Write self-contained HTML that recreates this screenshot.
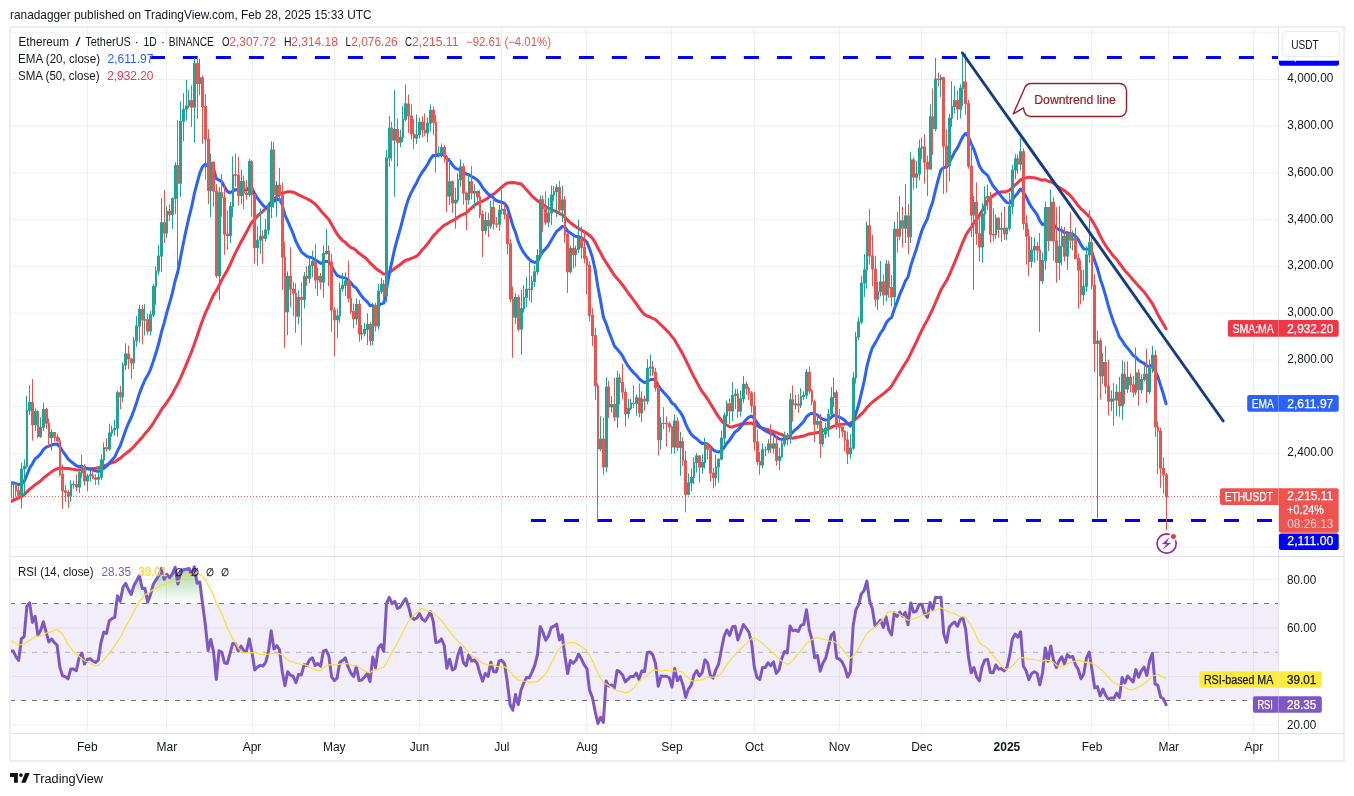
<!DOCTYPE html>
<html><head><meta charset="utf-8"><title>ETHUSDT chart</title>
<style>html,body{margin:0;padding:0;background:#fff;width:1354px;height:796px;overflow:hidden}</style></head>
<body>
<svg width="1354" height="796" viewBox="0 0 1354 796" style="position:absolute;left:0;top:0;will-change:transform;opacity:0.999" font-family="'Liberation Sans', Arial, sans-serif" font-size="12" fill="#131722">
<defs>
<linearGradient id="gUp" gradientUnits="userSpaceOnUse" x1="0" y1="550.4" x2="0" y2="603.8"><stop offset="0" stop-color="#4caf50" stop-opacity="0.75"/><stop offset="1" stop-color="#4caf50" stop-opacity="0.0"/></linearGradient>
<linearGradient id="gDn" gradientUnits="userSpaceOnUse" x1="0" y1="700.8" x2="0" y2="744.4"><stop offset="0" stop-color="#ff5252" stop-opacity="0.0"/><stop offset="1" stop-color="#ff5252" stop-opacity="0.6"/></linearGradient>
<clipPath id="cMain"><rect x="10" y="28" width="1268.5" height="528.5"/></clipPath>
<clipPath id="cRsi"><rect x="10" y="556.5" width="1268.5" height="177.0"/></clipPath>
<clipPath id="cUp"><rect x="0" y="0" width="1354" height="603.75"/></clipPath>
<clipPath id="cDn"><rect x="0" y="700.75" width="1354" height="200"/></clipPath>
</defs>
<rect width="1354" height="796" fill="#fff"/>
<g stroke="#eff1f1" stroke-width="1">
<line x1="87.5" y1="27" x2="87.5" y2="733.5"/>
<line x1="166.5" y1="27" x2="166.5" y2="733.5"/>
<line x1="252.5" y1="27" x2="252.5" y2="733.5"/>
<line x1="334.5" y1="27" x2="334.5" y2="733.5"/>
<line x1="419.5" y1="27" x2="419.5" y2="733.5"/>
<line x1="501.5" y1="27" x2="501.5" y2="733.5"/>
<line x1="586.5" y1="27" x2="586.5" y2="733.5"/>
<line x1="671.5" y1="27" x2="671.5" y2="733.5"/>
<line x1="754.5" y1="27" x2="754.5" y2="733.5"/>
<line x1="839.5" y1="27" x2="839.5" y2="733.5"/>
<line x1="921.5" y1="27" x2="921.5" y2="733.5"/>
<line x1="1006.5" y1="27" x2="1006.5" y2="733.5"/>
<line x1="1091.5" y1="27" x2="1091.5" y2="733.5"/>
<line x1="1168.5" y1="27" x2="1168.5" y2="733.5"/>
<line x1="1253.5" y1="27" x2="1253.5" y2="733.5"/>
<line x1="10" y1="546.9" x2="1278.5" y2="546.9"/>
<line x1="10" y1="500.16" x2="1278.5" y2="500.16"/>
<line x1="10" y1="453.42" x2="1278.5" y2="453.42"/>
<line x1="10" y1="406.68" x2="1278.5" y2="406.68"/>
<line x1="10" y1="359.94" x2="1278.5" y2="359.94"/>
<line x1="10" y1="313.2" x2="1278.5" y2="313.2"/>
<line x1="10" y1="266.46" x2="1278.5" y2="266.46"/>
<line x1="10" y1="219.72" x2="1278.5" y2="219.72"/>
<line x1="10" y1="172.98" x2="1278.5" y2="172.98"/>
<line x1="10" y1="126.24" x2="1278.5" y2="126.24"/>
<line x1="10" y1="79.5" x2="1278.5" y2="79.5"/>
<line x1="10" y1="32.76" x2="1278.5" y2="32.76"/>
<line x1="10" y1="725.0" x2="1278.5" y2="725.0"/>
<line x1="10" y1="676.5" x2="1278.5" y2="676.5"/>
<line x1="10" y1="628.0" x2="1278.5" y2="628.0"/>
<line x1="10" y1="579.5" x2="1278.5" y2="579.5"/>
</g>
<g clip-path="url(#cRsi)">
<rect x="10" y="603.8" width="1268.5" height="97.0" fill="#7e57c2" fill-opacity="0.1"/>
<path d="M10.43,651.11 L13.18,651.00 L15.92,656.63 L18.66,660.42 L21.41,638.74 L24.16,636.73 L26.90,606.15 L29.64,602.86 L32.39,622.39 L35.14,616.26 L37.88,635.18 L40.62,630.44 L43.37,621.77 L46.12,632.08 L48.86,642.02 L51.61,639.07 L54.35,642.48 L57.09,645.28 L59.84,667.17 L62.59,675.94 L65.33,676.80 L68.08,678.86 L70.82,669.00 L73.56,669.00 L76.31,670.75 L79.06,658.05 L81.80,652.97 L84.55,664.04 L87.29,659.45 L90.03,658.59 L92.78,661.03 L95.53,662.50 L98.27,660.16 L101.02,642.52 L103.76,632.08 L106.50,633.43 L109.25,620.80 L112.00,618.58 L114.74,617.34 L117.49,595.87 L120.23,601.33 L122.97,587.25 L125.72,583.36 L128.47,589.49 L131.21,594.53 L133.96,585.54 L136.70,580.54 L139.45,575.58 L142.19,588.51 L144.94,588.33 L147.68,602.12 L150.43,594.81 L153.17,584.56 L155.92,580.01 L158.66,575.96 L161.41,568.50 L164.15,579.41 L166.90,574.23 L169.64,577.59 L172.39,573.82 L175.13,567.25 L177.88,584.11 L180.62,571.64 L183.37,569.75 L186.11,569.23 L188.86,568.33 L191.60,574.44 L194.35,566.81 L197.09,583.24 L199.84,581.96 L202.58,604.01 L205.33,624.84 L208.07,650.59 L210.82,639.46 L213.56,651.85 L216.31,679.42 L219.05,650.76 L221.80,652.25 L224.54,662.99 L227.29,663.46 L230.03,653.43 L232.78,643.44 L235.52,643.70 L238.27,651.09 L241.01,646.14 L243.76,650.61 L246.50,651.16 L249.25,638.84 L251.99,652.23 L254.74,670.07 L257.48,667.04 L260.23,665.36 L262.97,666.11 L265.71,662.16 L268.46,651.62 L271.21,630.79 L273.95,649.04 L276.69,645.71 L279.44,649.66 L282.19,671.20 L284.93,685.61 L287.68,671.68 L290.42,675.14 L293.17,676.24 L295.91,682.60 L298.66,674.34 L301.40,674.98 L304.15,664.71 L306.89,665.47 L309.63,659.70 L312.38,657.75 L315.12,665.49 L317.87,663.56 L320.62,666.15 L323.36,651.23 L326.11,650.07 L328.85,655.82 L331.60,676.86 L334.34,680.54 L337.09,678.10 L339.83,662.32 L342.58,660.52 L345.32,657.84 L348.06,666.76 L350.81,673.00 L353.56,676.49 L356.30,666.66 L359.05,680.52 L361.79,680.02 L364.54,677.09 L367.28,673.37 L370.03,681.65 L372.77,657.07 L375.52,667.89 L378.26,648.17 L381.00,644.60 L383.75,651.41 L386.50,603.60 L389.24,597.43 L391.99,603.74 L394.73,601.34 L397.48,608.36 L400.22,607.08 L402.97,602.43 L405.71,598.62 L408.46,606.20 L411.20,617.01 L413.95,619.38 L416.69,618.21 L419.44,613.66 L422.18,618.97 L424.93,621.11 L427.67,616.96 L430.42,611.71 L433.16,621.18 L435.91,642.45 L438.65,642.07 L441.40,638.95 L444.14,645.26 L446.89,668.27 L449.63,659.18 L452.38,670.01 L455.12,668.17 L457.87,655.29 L460.61,647.69 L463.36,662.44 L466.10,665.81 L468.85,654.70 L471.59,661.05 L474.34,659.99 L477.08,663.17 L479.83,673.07 L482.57,681.27 L485.31,673.46 L488.06,676.37 L490.81,662.27 L493.55,671.69 L496.30,671.96 L499.04,661.03 L501.79,660.31 L504.53,663.75 L507.28,681.73 L510.02,704.53 L512.76,710.14 L515.51,694.54 L518.25,704.84 L521.00,690.21 L523.75,682.93 L526.49,677.56 L529.24,677.77 L531.98,672.16 L534.73,665.33 L537.47,654.60 L540.21,626.62 L542.96,632.27 L545.70,640.32 L548.45,635.91 L551.19,627.63 L553.94,626.16 L556.68,624.19 L559.43,640.02 L562.17,634.72 L564.92,655.79 L567.66,673.58 L570.41,660.42 L573.15,663.27 L575.90,660.30 L578.64,653.95 L581.39,658.97 L584.13,664.78 L586.88,668.52 L589.62,690.45 L592.37,697.34 L595.12,711.24 L597.86,723.53 L600.61,717.34 L603.35,722.36 L606.10,681.03 L608.84,686.10 L611.58,684.92 L614.33,688.33 L617.07,670.44 L619.82,671.86 L622.56,675.08 L625.31,681.92 L628.05,679.15 L630.80,676.40 L633.54,676.48 L636.29,673.15 L639.03,679.35 L641.78,670.91 L644.52,671.77 L647.27,652.45 L650.01,651.94 L652.76,654.88 L655.50,663.46 L658.25,686.30 L661.00,676.07 L663.74,676.17 L666.49,676.28 L669.23,677.74 L671.98,686.99 L674.72,668.52 L677.47,680.58 L680.21,676.60 L682.95,684.93 L685.70,697.25 L688.44,689.14 L691.19,685.33 L693.93,675.09 L696.68,670.50 L699.42,676.03 L702.17,672.62 L704.91,659.74 L707.66,662.89 L710.40,675.72 L713.15,678.08 L715.89,669.78 L718.64,663.99 L721.38,649.46 L724.13,636.25 L726.88,629.94 L729.62,635.36 L732.37,627.05 L735.11,626.30 L737.86,639.86 L740.60,632.55 L743.35,624.62 L746.09,628.17 L748.83,632.00 L751.58,642.74 L754.32,667.10 L757.07,677.60 L759.81,679.38 L762.56,667.52 L765.30,667.52 L768.05,662.82 L770.79,665.70 L773.54,661.83 L776.28,673.40 L779.03,669.91 L781.77,658.54 L784.52,651.46 L787.26,653.06 L790.01,626.07 L792.75,630.71 L795.50,630.10 L798.25,631.51 L800.99,625.36 L803.74,624.36 L806.48,609.73 L809.23,629.56 L811.97,639.61 L814.72,657.76 L817.46,655.49 L820.20,671.13 L822.95,663.00 L825.69,658.15 L828.44,647.13 L831.18,635.59 L833.93,632.37 L836.67,658.01 L839.42,659.12 L842.16,661.93 L844.91,668.00 L847.65,677.01 L850.40,671.74 L853.14,625.74 L855.89,609.68 L858.63,604.65 L861.38,593.65 L864.12,590.42 L866.87,581.06 L869.62,601.04 L872.36,609.02 L875.11,625.96 L877.85,623.42 L880.60,620.05 L883.34,627.56 L886.09,616.79 L888.83,629.95 L891.57,634.84 L894.32,612.71 L897.06,616.46 L899.81,611.98 L902.55,616.28 L905.30,612.41 L908.04,624.76 L910.79,603.03 L913.53,612.09 L916.28,611.22 L919.02,604.56 L921.77,604.26 L924.51,613.34 L927.26,617.37 L930.00,602.48 L932.75,609.45 L935.50,597.35 L938.24,597.63 L940.99,597.18 L943.73,633.90 L946.48,642.36 L949.22,627.19 L951.97,623.83 L954.71,622.12 L957.46,626.33 L960.20,619.76 L962.94,617.81 L965.69,629.56 L968.43,656.80 L971.18,672.86 L973.92,667.53 L976.67,677.03 L979.41,680.84 L982.16,666.59 L984.90,659.94 L987.65,659.56 L990.39,672.61 L993.14,672.76 L995.88,664.98 L998.63,669.15 L1001.38,668.56 L1004.12,670.84 L1006.87,667.64 L1009.61,655.62 L1012.36,638.88 L1015.10,634.13 L1017.85,637.17 L1020.59,631.73 L1023.34,666.06 L1026.08,670.78 L1028.83,679.64 L1031.57,673.63 L1034.32,671.75 L1037.06,673.27 L1039.81,684.83 L1042.55,673.02 L1045.30,647.92 L1048.04,661.33 L1050.79,645.97 L1053.53,660.41 L1056.28,667.57 L1059.02,660.93 L1061.77,656.82 L1064.51,664.18 L1067.26,654.69 L1070.00,657.29 L1072.75,656.45 L1075.49,664.86 L1078.24,669.54 L1080.98,678.77 L1083.73,674.08 L1086.47,657.93 L1089.22,652.11 L1091.96,669.71 L1094.71,687.98 L1097.45,686.68 L1100.20,696.06 L1102.94,689.03 L1105.69,695.38 L1108.43,699.25 L1111.18,697.88 L1113.92,698.21 L1116.67,693.03 L1119.41,697.36 L1122.16,677.58 L1124.90,682.99 L1127.65,676.00 L1130.39,679.00 L1133.14,682.02 L1135.88,669.62 L1138.62,677.12 L1141.37,670.58 L1144.12,667.15 L1146.86,675.60 L1149.61,660.80 L1152.35,653.25 L1155.10,683.91 L1157.84,685.33 L1160.59,696.91 L1163.33,698.79 L1166.08,704.74 L1166.08,603.75 L10.43,603.75 Z" fill="url(#gUp)" clip-path="url(#cUp)"/>
<path d="M10.43,651.11 L13.18,651.00 L15.92,656.63 L18.66,660.42 L21.41,638.74 L24.16,636.73 L26.90,606.15 L29.64,602.86 L32.39,622.39 L35.14,616.26 L37.88,635.18 L40.62,630.44 L43.37,621.77 L46.12,632.08 L48.86,642.02 L51.61,639.07 L54.35,642.48 L57.09,645.28 L59.84,667.17 L62.59,675.94 L65.33,676.80 L68.08,678.86 L70.82,669.00 L73.56,669.00 L76.31,670.75 L79.06,658.05 L81.80,652.97 L84.55,664.04 L87.29,659.45 L90.03,658.59 L92.78,661.03 L95.53,662.50 L98.27,660.16 L101.02,642.52 L103.76,632.08 L106.50,633.43 L109.25,620.80 L112.00,618.58 L114.74,617.34 L117.49,595.87 L120.23,601.33 L122.97,587.25 L125.72,583.36 L128.47,589.49 L131.21,594.53 L133.96,585.54 L136.70,580.54 L139.45,575.58 L142.19,588.51 L144.94,588.33 L147.68,602.12 L150.43,594.81 L153.17,584.56 L155.92,580.01 L158.66,575.96 L161.41,568.50 L164.15,579.41 L166.90,574.23 L169.64,577.59 L172.39,573.82 L175.13,567.25 L177.88,584.11 L180.62,571.64 L183.37,569.75 L186.11,569.23 L188.86,568.33 L191.60,574.44 L194.35,566.81 L197.09,583.24 L199.84,581.96 L202.58,604.01 L205.33,624.84 L208.07,650.59 L210.82,639.46 L213.56,651.85 L216.31,679.42 L219.05,650.76 L221.80,652.25 L224.54,662.99 L227.29,663.46 L230.03,653.43 L232.78,643.44 L235.52,643.70 L238.27,651.09 L241.01,646.14 L243.76,650.61 L246.50,651.16 L249.25,638.84 L251.99,652.23 L254.74,670.07 L257.48,667.04 L260.23,665.36 L262.97,666.11 L265.71,662.16 L268.46,651.62 L271.21,630.79 L273.95,649.04 L276.69,645.71 L279.44,649.66 L282.19,671.20 L284.93,685.61 L287.68,671.68 L290.42,675.14 L293.17,676.24 L295.91,682.60 L298.66,674.34 L301.40,674.98 L304.15,664.71 L306.89,665.47 L309.63,659.70 L312.38,657.75 L315.12,665.49 L317.87,663.56 L320.62,666.15 L323.36,651.23 L326.11,650.07 L328.85,655.82 L331.60,676.86 L334.34,680.54 L337.09,678.10 L339.83,662.32 L342.58,660.52 L345.32,657.84 L348.06,666.76 L350.81,673.00 L353.56,676.49 L356.30,666.66 L359.05,680.52 L361.79,680.02 L364.54,677.09 L367.28,673.37 L370.03,681.65 L372.77,657.07 L375.52,667.89 L378.26,648.17 L381.00,644.60 L383.75,651.41 L386.50,603.60 L389.24,597.43 L391.99,603.74 L394.73,601.34 L397.48,608.36 L400.22,607.08 L402.97,602.43 L405.71,598.62 L408.46,606.20 L411.20,617.01 L413.95,619.38 L416.69,618.21 L419.44,613.66 L422.18,618.97 L424.93,621.11 L427.67,616.96 L430.42,611.71 L433.16,621.18 L435.91,642.45 L438.65,642.07 L441.40,638.95 L444.14,645.26 L446.89,668.27 L449.63,659.18 L452.38,670.01 L455.12,668.17 L457.87,655.29 L460.61,647.69 L463.36,662.44 L466.10,665.81 L468.85,654.70 L471.59,661.05 L474.34,659.99 L477.08,663.17 L479.83,673.07 L482.57,681.27 L485.31,673.46 L488.06,676.37 L490.81,662.27 L493.55,671.69 L496.30,671.96 L499.04,661.03 L501.79,660.31 L504.53,663.75 L507.28,681.73 L510.02,704.53 L512.76,710.14 L515.51,694.54 L518.25,704.84 L521.00,690.21 L523.75,682.93 L526.49,677.56 L529.24,677.77 L531.98,672.16 L534.73,665.33 L537.47,654.60 L540.21,626.62 L542.96,632.27 L545.70,640.32 L548.45,635.91 L551.19,627.63 L553.94,626.16 L556.68,624.19 L559.43,640.02 L562.17,634.72 L564.92,655.79 L567.66,673.58 L570.41,660.42 L573.15,663.27 L575.90,660.30 L578.64,653.95 L581.39,658.97 L584.13,664.78 L586.88,668.52 L589.62,690.45 L592.37,697.34 L595.12,711.24 L597.86,723.53 L600.61,717.34 L603.35,722.36 L606.10,681.03 L608.84,686.10 L611.58,684.92 L614.33,688.33 L617.07,670.44 L619.82,671.86 L622.56,675.08 L625.31,681.92 L628.05,679.15 L630.80,676.40 L633.54,676.48 L636.29,673.15 L639.03,679.35 L641.78,670.91 L644.52,671.77 L647.27,652.45 L650.01,651.94 L652.76,654.88 L655.50,663.46 L658.25,686.30 L661.00,676.07 L663.74,676.17 L666.49,676.28 L669.23,677.74 L671.98,686.99 L674.72,668.52 L677.47,680.58 L680.21,676.60 L682.95,684.93 L685.70,697.25 L688.44,689.14 L691.19,685.33 L693.93,675.09 L696.68,670.50 L699.42,676.03 L702.17,672.62 L704.91,659.74 L707.66,662.89 L710.40,675.72 L713.15,678.08 L715.89,669.78 L718.64,663.99 L721.38,649.46 L724.13,636.25 L726.88,629.94 L729.62,635.36 L732.37,627.05 L735.11,626.30 L737.86,639.86 L740.60,632.55 L743.35,624.62 L746.09,628.17 L748.83,632.00 L751.58,642.74 L754.32,667.10 L757.07,677.60 L759.81,679.38 L762.56,667.52 L765.30,667.52 L768.05,662.82 L770.79,665.70 L773.54,661.83 L776.28,673.40 L779.03,669.91 L781.77,658.54 L784.52,651.46 L787.26,653.06 L790.01,626.07 L792.75,630.71 L795.50,630.10 L798.25,631.51 L800.99,625.36 L803.74,624.36 L806.48,609.73 L809.23,629.56 L811.97,639.61 L814.72,657.76 L817.46,655.49 L820.20,671.13 L822.95,663.00 L825.69,658.15 L828.44,647.13 L831.18,635.59 L833.93,632.37 L836.67,658.01 L839.42,659.12 L842.16,661.93 L844.91,668.00 L847.65,677.01 L850.40,671.74 L853.14,625.74 L855.89,609.68 L858.63,604.65 L861.38,593.65 L864.12,590.42 L866.87,581.06 L869.62,601.04 L872.36,609.02 L875.11,625.96 L877.85,623.42 L880.60,620.05 L883.34,627.56 L886.09,616.79 L888.83,629.95 L891.57,634.84 L894.32,612.71 L897.06,616.46 L899.81,611.98 L902.55,616.28 L905.30,612.41 L908.04,624.76 L910.79,603.03 L913.53,612.09 L916.28,611.22 L919.02,604.56 L921.77,604.26 L924.51,613.34 L927.26,617.37 L930.00,602.48 L932.75,609.45 L935.50,597.35 L938.24,597.63 L940.99,597.18 L943.73,633.90 L946.48,642.36 L949.22,627.19 L951.97,623.83 L954.71,622.12 L957.46,626.33 L960.20,619.76 L962.94,617.81 L965.69,629.56 L968.43,656.80 L971.18,672.86 L973.92,667.53 L976.67,677.03 L979.41,680.84 L982.16,666.59 L984.90,659.94 L987.65,659.56 L990.39,672.61 L993.14,672.76 L995.88,664.98 L998.63,669.15 L1001.38,668.56 L1004.12,670.84 L1006.87,667.64 L1009.61,655.62 L1012.36,638.88 L1015.10,634.13 L1017.85,637.17 L1020.59,631.73 L1023.34,666.06 L1026.08,670.78 L1028.83,679.64 L1031.57,673.63 L1034.32,671.75 L1037.06,673.27 L1039.81,684.83 L1042.55,673.02 L1045.30,647.92 L1048.04,661.33 L1050.79,645.97 L1053.53,660.41 L1056.28,667.57 L1059.02,660.93 L1061.77,656.82 L1064.51,664.18 L1067.26,654.69 L1070.00,657.29 L1072.75,656.45 L1075.49,664.86 L1078.24,669.54 L1080.98,678.77 L1083.73,674.08 L1086.47,657.93 L1089.22,652.11 L1091.96,669.71 L1094.71,687.98 L1097.45,686.68 L1100.20,696.06 L1102.94,689.03 L1105.69,695.38 L1108.43,699.25 L1111.18,697.88 L1113.92,698.21 L1116.67,693.03 L1119.41,697.36 L1122.16,677.58 L1124.90,682.99 L1127.65,676.00 L1130.39,679.00 L1133.14,682.02 L1135.88,669.62 L1138.62,677.12 L1141.37,670.58 L1144.12,667.15 L1146.86,675.60 L1149.61,660.80 L1152.35,653.25 L1155.10,683.91 L1157.84,685.33 L1160.59,696.91 L1163.33,698.79 L1166.08,704.74 L1166.08,700.75 L10.43,700.75 Z" fill="url(#gDn)" clip-path="url(#cDn)"/>
<line x1="10" y1="603.5" x2="1278.5" y2="603.5" stroke="#6f727c" stroke-opacity="1" stroke-width="1" stroke-dasharray="5 6"/>
<line x1="10" y1="652.3" x2="1278.5" y2="652.3" stroke="#787b86" stroke-opacity="0.55" stroke-width="1" stroke-dasharray="5 6"/>
<line x1="10" y1="700.5" x2="1278.5" y2="700.5" stroke="#6f727c" stroke-opacity="1" stroke-width="1" stroke-dasharray="5 6"/>
<path d="M10.43,651.11 L13.18,651.00 L15.92,656.63 L18.66,660.42 L21.41,638.74 L24.16,636.73 L26.90,606.15 L29.64,602.86 L32.39,622.39 L35.14,616.26 L37.88,635.18 L40.62,630.44 L43.37,621.77 L46.12,632.08 L48.86,642.02 L51.61,639.07 L54.35,642.48 L57.09,645.28 L59.84,667.17 L62.59,675.94 L65.33,676.80 L68.08,678.86 L70.82,669.00 L73.56,669.00 L76.31,670.75 L79.06,658.05 L81.80,652.97 L84.55,664.04 L87.29,659.45 L90.03,658.59 L92.78,661.03 L95.53,662.50 L98.27,660.16 L101.02,642.52 L103.76,632.08 L106.50,633.43 L109.25,620.80 L112.00,618.58 L114.74,617.34 L117.49,595.87 L120.23,601.33 L122.97,587.25 L125.72,583.36 L128.47,589.49 L131.21,594.53 L133.96,585.54 L136.70,580.54 L139.45,575.58 L142.19,588.51 L144.94,588.33 L147.68,602.12 L150.43,594.81 L153.17,584.56 L155.92,580.01 L158.66,575.96 L161.41,568.50 L164.15,579.41 L166.90,574.23 L169.64,577.59 L172.39,573.82 L175.13,567.25 L177.88,584.11 L180.62,571.64 L183.37,569.75 L186.11,569.23 L188.86,568.33 L191.60,574.44 L194.35,566.81 L197.09,583.24 L199.84,581.96 L202.58,604.01 L205.33,624.84 L208.07,650.59 L210.82,639.46 L213.56,651.85 L216.31,679.42 L219.05,650.76 L221.80,652.25 L224.54,662.99 L227.29,663.46 L230.03,653.43 L232.78,643.44 L235.52,643.70 L238.27,651.09 L241.01,646.14 L243.76,650.61 L246.50,651.16 L249.25,638.84 L251.99,652.23 L254.74,670.07 L257.48,667.04 L260.23,665.36 L262.97,666.11 L265.71,662.16 L268.46,651.62 L271.21,630.79 L273.95,649.04 L276.69,645.71 L279.44,649.66 L282.19,671.20 L284.93,685.61 L287.68,671.68 L290.42,675.14 L293.17,676.24 L295.91,682.60 L298.66,674.34 L301.40,674.98 L304.15,664.71 L306.89,665.47 L309.63,659.70 L312.38,657.75 L315.12,665.49 L317.87,663.56 L320.62,666.15 L323.36,651.23 L326.11,650.07 L328.85,655.82 L331.60,676.86 L334.34,680.54 L337.09,678.10 L339.83,662.32 L342.58,660.52 L345.32,657.84 L348.06,666.76 L350.81,673.00 L353.56,676.49 L356.30,666.66 L359.05,680.52 L361.79,680.02 L364.54,677.09 L367.28,673.37 L370.03,681.65 L372.77,657.07 L375.52,667.89 L378.26,648.17 L381.00,644.60 L383.75,651.41 L386.50,603.60 L389.24,597.43 L391.99,603.74 L394.73,601.34 L397.48,608.36 L400.22,607.08 L402.97,602.43 L405.71,598.62 L408.46,606.20 L411.20,617.01 L413.95,619.38 L416.69,618.21 L419.44,613.66 L422.18,618.97 L424.93,621.11 L427.67,616.96 L430.42,611.71 L433.16,621.18 L435.91,642.45 L438.65,642.07 L441.40,638.95 L444.14,645.26 L446.89,668.27 L449.63,659.18 L452.38,670.01 L455.12,668.17 L457.87,655.29 L460.61,647.69 L463.36,662.44 L466.10,665.81 L468.85,654.70 L471.59,661.05 L474.34,659.99 L477.08,663.17 L479.83,673.07 L482.57,681.27 L485.31,673.46 L488.06,676.37 L490.81,662.27 L493.55,671.69 L496.30,671.96 L499.04,661.03 L501.79,660.31 L504.53,663.75 L507.28,681.73 L510.02,704.53 L512.76,710.14 L515.51,694.54 L518.25,704.84 L521.00,690.21 L523.75,682.93 L526.49,677.56 L529.24,677.77 L531.98,672.16 L534.73,665.33 L537.47,654.60 L540.21,626.62 L542.96,632.27 L545.70,640.32 L548.45,635.91 L551.19,627.63 L553.94,626.16 L556.68,624.19 L559.43,640.02 L562.17,634.72 L564.92,655.79 L567.66,673.58 L570.41,660.42 L573.15,663.27 L575.90,660.30 L578.64,653.95 L581.39,658.97 L584.13,664.78 L586.88,668.52 L589.62,690.45 L592.37,697.34 L595.12,711.24 L597.86,723.53 L600.61,717.34 L603.35,722.36 L606.10,681.03 L608.84,686.10 L611.58,684.92 L614.33,688.33 L617.07,670.44 L619.82,671.86 L622.56,675.08 L625.31,681.92 L628.05,679.15 L630.80,676.40 L633.54,676.48 L636.29,673.15 L639.03,679.35 L641.78,670.91 L644.52,671.77 L647.27,652.45 L650.01,651.94 L652.76,654.88 L655.50,663.46 L658.25,686.30 L661.00,676.07 L663.74,676.17 L666.49,676.28 L669.23,677.74 L671.98,686.99 L674.72,668.52 L677.47,680.58 L680.21,676.60 L682.95,684.93 L685.70,697.25 L688.44,689.14 L691.19,685.33 L693.93,675.09 L696.68,670.50 L699.42,676.03 L702.17,672.62 L704.91,659.74 L707.66,662.89 L710.40,675.72 L713.15,678.08 L715.89,669.78 L718.64,663.99 L721.38,649.46 L724.13,636.25 L726.88,629.94 L729.62,635.36 L732.37,627.05 L735.11,626.30 L737.86,639.86 L740.60,632.55 L743.35,624.62 L746.09,628.17 L748.83,632.00 L751.58,642.74 L754.32,667.10 L757.07,677.60 L759.81,679.38 L762.56,667.52 L765.30,667.52 L768.05,662.82 L770.79,665.70 L773.54,661.83 L776.28,673.40 L779.03,669.91 L781.77,658.54 L784.52,651.46 L787.26,653.06 L790.01,626.07 L792.75,630.71 L795.50,630.10 L798.25,631.51 L800.99,625.36 L803.74,624.36 L806.48,609.73 L809.23,629.56 L811.97,639.61 L814.72,657.76 L817.46,655.49 L820.20,671.13 L822.95,663.00 L825.69,658.15 L828.44,647.13 L831.18,635.59 L833.93,632.37 L836.67,658.01 L839.42,659.12 L842.16,661.93 L844.91,668.00 L847.65,677.01 L850.40,671.74 L853.14,625.74 L855.89,609.68 L858.63,604.65 L861.38,593.65 L864.12,590.42 L866.87,581.06 L869.62,601.04 L872.36,609.02 L875.11,625.96 L877.85,623.42 L880.60,620.05 L883.34,627.56 L886.09,616.79 L888.83,629.95 L891.57,634.84 L894.32,612.71 L897.06,616.46 L899.81,611.98 L902.55,616.28 L905.30,612.41 L908.04,624.76 L910.79,603.03 L913.53,612.09 L916.28,611.22 L919.02,604.56 L921.77,604.26 L924.51,613.34 L927.26,617.37 L930.00,602.48 L932.75,609.45 L935.50,597.35 L938.24,597.63 L940.99,597.18 L943.73,633.90 L946.48,642.36 L949.22,627.19 L951.97,623.83 L954.71,622.12 L957.46,626.33 L960.20,619.76 L962.94,617.81 L965.69,629.56 L968.43,656.80 L971.18,672.86 L973.92,667.53 L976.67,677.03 L979.41,680.84 L982.16,666.59 L984.90,659.94 L987.65,659.56 L990.39,672.61 L993.14,672.76 L995.88,664.98 L998.63,669.15 L1001.38,668.56 L1004.12,670.84 L1006.87,667.64 L1009.61,655.62 L1012.36,638.88 L1015.10,634.13 L1017.85,637.17 L1020.59,631.73 L1023.34,666.06 L1026.08,670.78 L1028.83,679.64 L1031.57,673.63 L1034.32,671.75 L1037.06,673.27 L1039.81,684.83 L1042.55,673.02 L1045.30,647.92 L1048.04,661.33 L1050.79,645.97 L1053.53,660.41 L1056.28,667.57 L1059.02,660.93 L1061.77,656.82 L1064.51,664.18 L1067.26,654.69 L1070.00,657.29 L1072.75,656.45 L1075.49,664.86 L1078.24,669.54 L1080.98,678.77 L1083.73,674.08 L1086.47,657.93 L1089.22,652.11 L1091.96,669.71 L1094.71,687.98 L1097.45,686.68 L1100.20,696.06 L1102.94,689.03 L1105.69,695.38 L1108.43,699.25 L1111.18,697.88 L1113.92,698.21 L1116.67,693.03 L1119.41,697.36 L1122.16,677.58 L1124.90,682.99 L1127.65,676.00 L1130.39,679.00 L1133.14,682.02 L1135.88,669.62 L1138.62,677.12 L1141.37,670.58 L1144.12,667.15 L1146.86,675.60 L1149.61,660.80 L1152.35,653.25 L1155.10,683.91 L1157.84,685.33 L1160.59,696.91 L1163.33,698.79 L1166.08,704.74" fill="none" stroke="#7e57c2" stroke-width="3" stroke-linejoin="round" stroke-linecap="round"/>
<path d="M10.43,640.09 L13.18,641.72 L15.92,643.47 L18.66,644.74 L21.41,644.57 L24.16,643.57 L26.90,642.25 L29.64,640.15 L32.39,638.75 L35.14,636.80 L37.88,636.03 L40.62,635.88 L43.37,635.15 L46.12,632.98 L48.86,632.33 L51.61,631.48 L54.35,630.47 L57.09,629.39 L59.84,631.42 L62.59,634.22 L65.33,639.27 L68.08,644.69 L70.82,648.02 L73.56,651.79 L76.31,654.33 L79.06,656.30 L81.80,658.53 L84.55,660.81 L87.29,662.06 L90.03,663.45 L92.78,664.78 L95.53,666.01 L98.27,665.51 L101.02,663.12 L103.76,659.93 L106.50,656.68 L109.25,653.24 L112.00,649.64 L114.74,645.82 L117.49,641.38 L120.23,637.69 L122.97,632.21 L125.72,626.77 L128.47,621.84 L131.21,617.09 L133.96,611.59 L136.70,605.90 L139.45,601.12 L142.19,598.01 L144.94,594.79 L147.68,593.45 L150.43,591.76 L153.17,589.42 L155.92,588.28 L158.66,586.47 L161.41,585.13 L164.15,584.85 L166.90,583.76 L169.64,582.55 L172.39,581.71 L175.13,580.76 L177.88,581.37 L180.62,580.17 L183.37,578.84 L186.11,576.49 L188.86,574.60 L191.60,573.88 L194.35,572.93 L197.09,573.45 L199.84,574.42 L202.58,576.17 L205.33,579.79 L208.07,585.00 L210.82,589.69 L213.56,595.73 L216.31,602.54 L219.05,608.19 L221.80,614.09 L224.54,620.78 L227.29,627.58 L230.03,633.22 L232.78,638.69 L235.52,643.01 L238.27,647.95 L241.01,650.96 L243.76,652.80 L246.50,652.84 L249.25,652.80 L251.99,652.82 L254.74,652.15 L257.48,653.32 L260.23,654.25 L262.97,654.48 L265.71,654.38 L268.46,654.25 L271.21,653.35 L273.95,653.73 L276.69,653.35 L279.44,653.60 L282.19,655.07 L284.93,657.53 L287.68,659.88 L290.42,661.51 L293.17,661.95 L295.91,663.07 L298.66,663.71 L301.40,664.34 L304.15,664.52 L306.89,665.51 L309.63,667.58 L312.38,668.20 L315.12,669.61 L317.87,670.60 L320.62,670.24 L323.36,667.79 L326.11,666.25 L328.85,664.87 L331.60,664.91 L334.34,664.76 L337.09,665.03 L339.83,664.13 L342.58,663.83 L345.32,663.28 L348.06,663.79 L350.81,664.88 L353.56,665.66 L356.30,665.88 L359.05,666.91 L361.79,668.97 L364.54,670.90 L367.28,672.15 L370.03,672.49 L372.77,670.82 L375.52,670.09 L378.26,669.07 L381.00,667.94 L383.75,667.48 L386.50,662.97 L389.24,657.57 L391.99,652.37 L394.73,647.71 L397.48,642.55 L400.22,637.34 L402.97,632.01 L405.71,626.67 L408.46,621.28 L411.20,618.42 L413.95,614.95 L416.69,612.81 L419.44,610.60 L422.18,608.29 L424.93,609.54 L427.67,610.93 L430.42,611.50 L433.16,612.92 L435.91,615.35 L438.65,617.85 L441.40,620.46 L444.14,623.79 L446.89,628.23 L449.63,631.24 L452.38,634.86 L455.12,638.43 L457.87,641.40 L460.61,643.45 L463.36,646.40 L466.10,649.89 L468.85,652.96 L471.59,655.81 L474.34,657.06 L477.08,658.57 L479.83,661.01 L482.57,663.58 L485.31,663.95 L488.06,665.18 L490.81,664.63 L493.55,664.88 L496.30,666.07 L499.04,667.02 L501.79,666.87 L504.53,666.72 L507.28,668.65 L510.02,671.76 L512.76,675.34 L515.51,677.58 L518.25,679.85 L521.00,680.49 L523.75,681.17 L526.49,681.25 L529.24,682.36 L531.98,682.39 L534.73,681.92 L537.47,681.46 L540.21,679.05 L542.96,676.80 L545.70,673.85 L548.45,668.94 L551.19,663.05 L553.94,658.17 L556.68,652.40 L559.43,648.82 L562.17,645.38 L564.92,643.82 L567.66,643.52 L570.41,642.68 L573.15,642.54 L575.90,642.94 L578.64,644.89 L581.39,646.80 L584.13,648.55 L586.88,650.88 L589.62,655.37 L592.37,660.45 L595.12,666.67 L597.86,672.63 L600.61,678.53 L603.35,683.29 L606.10,683.82 L608.84,685.65 L611.58,687.20 L614.33,689.20 L617.07,690.38 L619.82,691.30 L622.56,692.04 L625.31,692.99 L628.05,692.19 L630.80,690.69 L633.54,688.21 L636.29,684.61 L639.03,681.90 L641.78,678.22 L644.52,677.56 L647.27,675.16 L650.01,672.80 L652.76,670.41 L655.50,669.91 L658.25,670.94 L661.00,671.02 L663.74,670.61 L666.49,670.40 L669.23,670.50 L671.98,671.25 L674.72,670.92 L677.47,671.00 L680.21,671.41 L682.95,672.35 L685.70,675.55 L688.44,678.21 L691.19,680.38 L693.93,681.21 L696.68,680.09 L699.42,680.08 L702.17,679.83 L704.91,678.65 L707.66,677.59 L710.40,676.78 L713.15,677.46 L715.89,676.69 L718.64,675.79 L721.38,673.26 L724.13,668.90 L726.88,664.67 L729.62,661.10 L732.37,657.67 L735.11,654.52 L737.86,651.93 L740.60,649.07 L743.35,646.56 L746.09,644.08 L748.83,640.96 L751.58,638.43 L754.32,638.24 L757.07,639.21 L759.81,641.35 L762.56,643.59 L765.30,646.27 L768.05,648.23 L770.79,650.99 L773.54,653.53 L776.28,655.93 L779.03,658.59 L781.77,661.02 L784.52,662.68 L787.26,664.18 L790.01,662.99 L792.75,660.39 L795.50,657.00 L798.25,653.58 L800.99,650.57 L803.74,647.49 L806.48,643.70 L809.23,641.11 L811.97,639.53 L814.72,638.41 L817.46,637.38 L820.20,638.28 L822.95,639.10 L825.69,639.47 L828.44,640.97 L831.18,641.32 L833.93,641.48 L836.67,643.37 L839.42,645.79 L842.16,648.47 L844.91,652.63 L847.65,656.02 L850.40,658.32 L853.14,656.03 L855.89,652.76 L858.63,648.01 L861.38,643.06 L864.12,638.22 L866.87,633.50 L869.62,631.03 L872.36,629.36 L875.11,627.07 L877.85,624.52 L880.60,621.53 L883.34,618.64 L886.09,614.34 L888.83,611.36 L891.57,612.01 L894.32,612.22 L897.06,613.07 L899.81,614.38 L902.55,616.22 L905.30,618.46 L908.04,620.16 L910.79,619.73 L913.53,618.74 L916.28,617.87 L919.02,616.76 L921.77,615.10 L924.51,614.85 L927.26,613.95 L930.00,611.64 L932.75,611.41 L935.50,610.04 L938.24,609.02 L940.99,607.65 L943.73,609.19 L946.48,610.44 L949.22,612.17 L951.97,613.01 L954.71,613.79 L957.46,615.34 L960.20,616.45 L962.94,616.77 L965.69,617.64 L968.43,621.52 L971.18,626.05 L973.92,631.06 L976.67,636.73 L979.41,642.71 L982.16,645.04 L984.90,646.30 L987.65,648.61 L990.39,652.10 L993.14,655.71 L995.88,658.47 L998.63,662.00 L1001.38,665.63 L1004.12,668.57 L1006.87,669.35 L1009.61,668.12 L1012.36,666.07 L1015.10,663.01 L1017.85,659.89 L1020.59,657.40 L1023.34,657.83 L1026.08,658.64 L1028.83,659.14 L1031.57,659.20 L1034.32,659.68 L1037.06,659.98 L1039.81,661.14 L1042.55,661.30 L1045.30,659.89 L1048.04,660.30 L1050.79,660.80 L1053.53,662.68 L1056.28,664.85 L1059.02,666.94 L1061.77,666.28 L1064.51,665.80 L1067.26,664.02 L1070.00,662.86 L1072.75,661.76 L1075.49,661.16 L1078.24,660.07 L1080.98,660.48 L1083.73,662.35 L1086.47,662.11 L1089.22,662.55 L1091.96,663.21 L1094.71,664.67 L1097.45,666.51 L1100.20,669.31 L1102.94,671.08 L1105.69,673.99 L1108.43,676.99 L1111.18,679.95 L1113.92,682.33 L1116.67,684.01 L1119.41,685.34 L1122.16,685.59 L1124.90,687.38 L1127.65,689.08 L1130.39,689.75 L1133.14,689.32 L1135.88,688.10 L1138.62,686.75 L1141.37,685.43 L1144.12,683.42 L1146.86,681.73 L1149.61,679.08 L1152.35,675.87 L1155.10,675.21 L1157.84,674.35 L1160.59,675.73 L1163.33,676.86 L1166.08,678.92" fill="none" stroke="#fbdd38" stroke-width="1.2" stroke-linejoin="round"/>
</g>
<g clip-path="url(#cMain)">
<line x1="10" y1="496.62" x2="1278.5" y2="496.62" stroke="#ef5350" stroke-width="1" stroke-dasharray="1 2"/>
<path d="M10.43,501.83 L13.18,500.39 L15.92,499.08 L18.66,497.87 L21.41,496.37 L24.16,494.85 L26.90,491.81 L29.64,489.21 L32.39,487.06 L35.14,484.73 L37.88,482.91 L40.62,480.82 L43.37,478.19 L46.12,475.94 L48.86,473.89 L51.61,471.84 L54.35,470.05 L57.09,468.70 L59.84,468.15 L62.59,468.17 L65.33,468.45 L68.08,468.52 L70.82,468.94 L73.56,469.37 L76.31,469.76 L79.06,469.93 L81.80,469.37 L84.55,468.99 L87.29,468.79 L90.03,468.82 L92.78,468.47 L95.53,468.18 L98.27,467.71 L101.02,466.98 L103.76,465.82 L106.50,464.80 L109.25,463.64 L112.00,462.82 L114.74,461.90 L117.49,460.05 L120.23,458.32 L122.97,455.77 L125.72,453.68 L128.47,451.53 L131.21,449.25 L133.96,446.48 L136.70,443.38 L139.45,440.27 L142.19,437.39 L144.94,433.83 L147.68,430.77 L150.43,427.38 L153.17,423.30 L155.92,418.82 L158.66,414.56 L161.41,409.69 L164.15,406.14 L166.90,402.32 L169.64,398.11 L172.39,393.85 L175.13,388.43 L177.88,383.55 L180.62,377.79 L183.37,371.50 L186.11,364.87 L188.86,358.23 L191.60,351.64 L194.35,344.09 L197.09,336.27 L199.84,328.01 L202.58,320.29 L205.33,313.15 L208.07,307.27 L210.82,300.82 L213.56,294.90 L216.31,290.96 L219.05,285.48 L221.80,279.82 L224.54,274.98 L227.29,270.20 L230.03,264.77 L232.78,258.68 L235.52,252.64 L238.27,247.36 L241.01,242.03 L243.76,236.92 L246.50,232.15 L249.25,226.78 L251.99,222.11 L254.74,219.21 L257.48,216.08 L260.23,213.50 L262.97,211.19 L265.71,208.60 L268.46,205.48 L271.21,201.66 L273.95,199.04 L276.69,196.55 L279.44,194.05 L282.19,192.81 L284.93,192.42 L287.68,191.65 L290.42,191.71 L293.17,192.15 L295.91,193.35 L298.66,194.85 L301.40,196.17 L304.15,197.48 L306.89,198.75 L309.63,200.10 L312.38,202.02 L315.12,203.95 L317.87,207.05 L320.62,210.51 L323.36,213.46 L326.11,216.47 L328.85,219.57 L331.60,224.50 L334.34,229.23 L337.09,233.99 L339.83,237.64 L342.58,240.56 L345.32,242.37 L348.06,245.09 L350.81,247.50 L353.56,248.36 L356.30,250.59 L359.05,253.32 L361.79,255.31 L364.54,257.18 L367.28,259.54 L370.03,262.86 L372.77,265.46 L375.52,268.07 L378.26,270.26 L381.00,272.09 L383.75,274.12 L386.50,274.05 L389.24,272.72 L391.99,270.57 L394.73,268.35 L397.48,266.48 L400.22,264.46 L402.97,262.25 L405.71,260.19 L408.46,259.51 L411.20,258.31 L413.95,257.36 L416.69,256.16 L419.44,253.46 L422.18,249.82 L424.93,246.95 L427.67,243.63 L430.42,239.97 L433.16,236.09 L435.91,233.22 L438.65,230.30 L441.40,227.72 L444.14,225.28 L446.89,223.89 L449.63,222.30 L452.38,220.75 L455.12,219.23 L457.87,217.19 L460.61,215.45 L463.36,214.29 L466.10,213.04 L468.85,210.47 L471.59,207.93 L474.34,205.45 L477.08,203.61 L479.83,202.19 L482.57,201.19 L485.31,199.63 L488.06,197.92 L490.81,195.70 L493.55,194.08 L496.30,191.89 L499.04,189.42 L501.79,187.02 L504.53,184.81 L507.28,182.88 L510.02,182.75 L512.76,182.58 L515.51,182.70 L518.25,183.60 L521.00,183.84 L523.75,186.63 L526.49,189.85 L529.24,192.84 L531.98,195.88 L534.73,198.47 L537.47,200.83 L540.21,202.44 L542.96,204.54 L545.70,206.66 L548.45,208.24 L551.19,209.38 L553.94,210.52 L556.68,211.82 L559.43,213.42 L562.17,214.76 L564.92,216.99 L567.66,220.22 L570.41,222.74 L573.15,224.75 L575.90,226.68 L578.64,228.50 L581.39,230.31 L584.13,231.56 L586.88,233.23 L589.62,235.48 L592.37,238.18 L595.12,242.31 L597.86,247.95 L600.61,252.87 L603.35,258.21 L606.10,262.32 L608.84,266.60 L611.58,270.85 L614.33,275.26 L617.07,278.53 L619.82,281.56 L622.56,285.00 L625.31,288.75 L628.05,292.77 L630.80,296.36 L633.54,299.94 L636.29,303.69 L639.03,307.76 L641.78,311.47 L644.52,314.61 L647.27,315.99 L650.01,316.99 L652.76,318.49 L655.50,319.66 L658.25,322.29 L661.00,324.81 L663.74,327.50 L666.49,330.18 L669.23,333.09 L671.98,336.59 L674.72,339.90 L677.47,344.86 L680.21,349.51 L682.95,354.29 L685.70,359.91 L688.44,365.67 L691.19,371.38 L693.93,376.89 L696.68,381.80 L699.42,387.15 L702.17,391.71 L704.91,395.15 L707.66,399.17 L710.40,403.54 L713.15,408.11 L715.89,412.68 L718.64,416.92 L721.38,420.51 L724.13,423.52 L726.88,425.29 L729.62,426.79 L732.37,426.99 L735.11,425.89 L737.86,425.33 L740.60,423.97 L743.35,423.91 L746.09,423.54 L748.83,423.31 L751.58,423.09 L754.32,424.37 L757.07,425.95 L759.81,427.41 L762.56,428.13 L765.30,428.96 L768.05,429.77 L770.79,430.67 L773.54,431.59 L776.28,432.54 L779.03,433.68 L781.77,434.54 L784.52,435.89 L787.26,437.30 L790.01,437.84 L792.75,438.19 L795.50,437.47 L798.25,437.11 L800.99,436.57 L803.74,436.00 L806.48,434.91 L809.23,433.79 L811.97,433.40 L814.72,432.94 L817.46,432.54 L820.20,432.20 L822.95,430.99 L825.69,429.90 L828.44,428.64 L831.18,427.33 L833.93,426.07 L836.67,425.24 L839.42,424.54 L842.16,424.28 L844.91,424.10 L847.65,423.71 L850.40,423.12 L853.14,421.34 L855.89,418.90 L858.63,416.58 L861.38,413.93 L864.12,411.25 L866.87,407.55 L869.62,404.76 L872.36,402.26 L875.11,400.02 L877.85,397.88 L880.60,395.83 L883.34,393.95 L886.09,391.38 L888.83,389.01 L891.57,386.11 L894.32,381.46 L897.06,376.89 L899.81,372.31 L902.55,367.87 L905.30,363.31 L908.04,359.09 L910.79,353.41 L913.53,347.75 L916.28,342.09 L919.02,336.18 L921.77,330.41 L924.51,324.90 L927.26,320.29 L930.00,314.53 L932.75,309.02 L935.50,302.50 L938.24,296.16 L940.99,289.81 L943.73,285.28 L946.48,280.78 L949.22,275.10 L951.97,268.75 L954.71,262.33 L957.46,255.64 L960.20,248.72 L962.94,241.79 L965.69,235.58 L968.43,230.95 L971.18,227.40 L973.92,222.93 L976.67,219.06 L979.41,215.37 L982.16,210.85 L984.90,205.72 L987.65,200.69 L990.39,197.82 L993.14,195.77 L995.88,193.70 L998.63,192.62 L1001.38,191.79 L1004.12,191.95 L1006.87,191.40 L1009.61,190.14 L1012.36,187.56 L1015.10,184.90 L1017.85,182.55 L1020.59,179.69 L1023.34,178.88 L1026.08,177.85 L1028.83,177.15 L1031.57,177.56 L1034.32,177.77 L1037.06,178.36 L1039.81,179.41 L1042.55,180.30 L1045.30,179.71 L1048.04,181.32 L1050.79,181.82 L1053.53,183.16 L1056.28,185.45 L1059.02,187.43 L1061.77,188.91 L1064.51,190.66 L1067.26,192.99 L1070.00,195.22 L1072.75,198.41 L1075.49,201.99 L1078.24,205.84 L1080.98,208.81 L1083.73,211.22 L1086.47,213.96 L1089.22,216.68 L1091.96,220.37 L1094.71,225.06 L1097.45,230.11 L1100.20,235.99 L1102.94,241.17 L1105.69,245.57 L1108.43,249.29 L1111.18,253.22 L1113.92,256.55 L1116.67,259.46 L1119.41,263.29 L1122.16,266.83 L1124.90,270.68 L1127.65,273.54 L1130.39,276.54 L1133.14,280.02 L1135.88,282.88 L1138.62,286.12 L1141.37,289.03 L1144.12,291.95 L1146.86,295.66 L1149.61,299.62 L1152.35,303.55 L1155.10,308.80 L1157.84,314.39 L1160.59,319.29 L1163.33,324.06 L1166.08,328.76" fill="none" stroke="#f23645" stroke-width="3" stroke-linejoin="round" stroke-linecap="round"/>
<path d="M10.43,482.79 L13.18,482.90 L15.92,483.63 L18.66,484.73 L21.41,483.23 L24.16,481.61 L26.90,474.84 L29.64,467.93 L32.39,463.81 L35.14,458.84 L37.88,456.71 L40.62,453.91 L43.37,449.69 L46.12,447.18 L48.86,446.27 L51.61,444.95 L54.35,444.21 L57.09,443.90 L59.84,446.80 L62.59,450.99 L65.33,454.94 L68.08,458.87 L70.82,461.30 L73.56,463.51 L76.31,465.75 L79.06,466.42 L81.80,466.44 L84.55,467.82 L87.29,468.58 L90.03,469.18 L92.78,469.99 L95.53,470.88 L98.27,471.48 L101.02,470.38 L103.76,468.22 L106.50,466.37 L109.25,463.19 L112.00,460.02 L114.74,457.00 L117.49,450.87 L120.23,445.73 L122.97,438.04 L125.72,430.04 L128.47,423.27 L131.21,417.52 L133.96,410.20 L136.70,402.17 L139.45,393.33 L142.19,386.35 L144.94,379.99 L147.68,375.33 L150.43,369.56 L153.17,361.63 L155.92,353.01 L158.66,343.78 L161.41,332.24 L164.15,322.81 L166.90,312.17 L169.64,302.87 L172.39,292.93 L175.13,280.79 L177.88,271.50 L180.62,257.19 L183.37,243.11 L186.11,230.05 L188.86,217.72 L191.60,207.19 L194.35,193.52 L197.09,183.04 L199.84,173.01 L202.58,166.67 L205.33,164.04 L208.07,166.56 L210.82,166.15 L213.56,168.52 L216.31,178.73 L219.05,180.06 L221.80,181.73 L224.54,186.72 L227.29,191.39 L230.03,192.82 L232.78,191.09 L235.52,189.59 L238.27,190.17 L241.01,189.34 L243.76,189.70 L246.50,190.16 L249.25,187.43 L251.99,188.10 L254.74,193.78 L257.48,198.20 L260.23,201.82 L262.97,205.30 L265.71,207.64 L268.46,207.53 L271.21,202.05 L273.95,201.34 L276.69,199.80 L279.44,199.34 L282.19,204.86 L284.93,215.05 L287.68,220.88 L290.42,227.38 L293.17,233.64 L295.91,241.52 L298.66,246.83 L301.40,251.84 L304.15,254.17 L306.89,256.47 L309.63,257.36 L312.38,257.75 L315.12,259.87 L317.87,261.43 L320.62,263.40 L323.36,262.46 L326.11,261.39 L328.85,261.47 L331.60,266.09 L334.34,271.21 L337.09,275.46 L339.83,276.72 L342.58,277.55 L345.32,277.85 L348.06,279.79 L350.81,282.80 L353.56,286.24 L356.30,287.97 L359.05,292.36 L361.79,296.27 L364.54,299.43 L367.28,301.82 L370.03,305.52 L372.77,305.50 L375.52,307.44 L378.26,305.90 L381.00,303.84 L383.75,303.11 L386.50,289.29 L389.24,273.93 L391.99,261.19 L394.73,248.64 L397.48,238.51 L400.22,228.88 L402.97,218.45 L405.71,207.54 L408.46,198.83 L411.20,192.66 L413.95,187.47 L416.69,182.45 L419.44,176.71 L422.18,172.25 L424.93,168.51 L427.67,164.18 L430.42,159.04 L433.16,155.55 L435.91,155.38 L438.65,155.16 L441.40,154.43 L444.14,154.63 L446.89,158.59 L449.63,160.79 L452.38,164.80 L455.12,168.17 L457.87,169.27 L460.61,169.03 L463.36,171.32 L466.10,174.02 L468.85,174.75 L471.59,176.50 L474.34,177.93 L477.08,179.73 L479.83,183.04 L482.57,187.56 L485.31,190.70 L488.06,194.06 L490.81,195.33 L493.55,198.04 L496.30,200.54 L499.04,201.46 L501.79,202.21 L504.53,203.35 L507.28,207.19 L510.02,215.93 L512.76,225.58 L515.51,232.42 L518.25,241.63 L521.00,247.99 L523.75,252.69 L526.49,256.16 L529.24,259.35 L531.98,261.47 L534.73,262.46 L537.47,261.79 L540.21,255.87 L542.96,251.39 L545.70,248.61 L548.45,245.22 L551.19,240.44 L553.94,235.80 L556.68,231.20 L559.43,229.18 L562.17,226.39 L564.92,227.15 L567.66,231.40 L570.41,233.02 L573.15,235.06 L575.90,236.42 L578.64,236.60 L581.39,237.64 L584.13,239.60 L586.88,242.04 L589.62,249.03 L592.37,257.26 L595.12,269.51 L597.86,286.59 L600.61,301.11 L603.35,316.90 L606.10,323.58 L608.84,331.52 L611.58,338.46 L614.33,345.94 L617.07,348.99 L619.82,352.16 L622.56,355.98 L625.31,361.48 L628.05,365.94 L630.80,369.49 L633.54,372.72 L636.29,375.11 L639.03,378.70 L641.78,380.66 L644.52,382.60 L647.27,381.22 L650.01,379.88 L652.76,379.15 L655.50,379.97 L658.25,385.66 L661.00,389.25 L663.74,392.52 L666.49,395.50 L669.23,398.49 L671.98,403.11 L674.72,404.81 L677.47,408.87 L680.21,411.99 L682.95,416.64 L685.70,424.04 L688.44,429.64 L691.19,434.19 L693.93,436.90 L696.68,438.71 L699.42,441.42 L702.17,443.42 L704.91,443.47 L707.66,444.03 L710.40,446.79 L713.15,449.73 L715.89,451.37 L718.64,452.11 L721.38,450.78 L724.13,447.43 L726.88,443.26 L729.62,440.18 L732.37,435.92 L735.11,431.94 L737.86,429.96 L740.60,426.99 L743.35,422.91 L746.09,419.63 L748.83,417.09 L751.58,416.01 L754.32,418.47 L757.07,422.57 L759.81,426.61 L762.56,428.82 L765.30,430.82 L768.05,432.07 L770.79,433.60 L773.54,434.57 L776.28,437.02 L779.03,438.89 L781.77,439.37 L784.52,439.00 L787.26,438.85 L790.01,435.12 L792.75,432.24 L795.50,429.54 L798.25,427.23 L800.99,424.32 L803.74,421.55 L806.48,416.86 L809.23,414.40 L811.97,413.20 L814.72,414.25 L817.46,414.94 L820.20,417.68 L822.95,419.25 L825.69,420.10 L828.44,419.54 L831.18,417.45 L833.93,415.09 L836.67,416.10 L839.42,417.17 L842.16,418.51 L844.91,420.56 L847.65,423.72 L850.40,426.05 L853.14,421.47 L855.89,413.44 L858.63,404.72 L861.38,393.13 L864.12,381.40 L866.87,366.57 L869.62,356.03 L872.36,347.74 L875.11,343.12 L877.85,338.23 L880.60,332.86 L883.34,329.23 L886.09,323.03 L888.83,319.64 L891.57,317.45 L894.32,309.05 L897.06,302.11 L899.81,294.36 L902.55,288.07 L905.30,281.19 L908.04,276.97 L910.79,265.82 L913.53,257.38 L916.28,249.43 L919.02,239.79 L921.77,230.95 L924.51,224.40 L927.26,219.13 L930.00,209.38 L932.75,201.70 L935.50,190.02 L938.24,179.49 L940.99,169.80 L943.73,167.54 L946.48,167.36 L949.22,162.68 L951.97,157.33 L954.71,151.92 L957.46,147.84 L960.20,142.16 L962.94,136.42 L965.69,133.30 L968.43,136.43 L971.18,143.93 L973.92,149.48 L976.67,157.50 L979.41,166.02 L982.16,170.59 L984.90,173.14 L987.65,175.35 L990.39,180.97 L993.14,186.10 L995.88,189.15 L998.63,192.99 L1001.38,196.35 L1004.12,199.92 L1006.87,202.62 L1009.61,202.96 L1012.36,199.84 L1015.10,195.92 L1017.85,192.89 L1020.59,188.96 L1023.34,192.26 L1026.08,196.45 L1028.83,202.64 L1031.57,207.16 L1034.32,210.91 L1037.06,214.65 L1039.81,220.95 L1042.55,224.70 L1045.30,223.05 L1048.04,224.73 L1050.79,222.57 L1053.53,224.31 L1056.28,227.94 L1059.02,229.69 L1061.77,230.31 L1064.51,232.77 L1067.26,232.85 L1070.00,233.55 L1072.75,234.01 L1075.49,236.34 L1078.24,239.56 L1080.98,244.82 L1083.73,248.77 L1086.47,249.36 L1089.22,248.71 L1091.96,252.18 L1094.71,260.88 L1097.45,268.50 L1100.20,278.72 L1102.94,286.69 L1105.69,296.16 L1108.43,306.18 L1111.18,315.02 L1113.92,323.12 L1116.67,329.70 L1119.41,336.95 L1122.16,340.49 L1124.90,345.10 L1127.65,348.16 L1130.39,351.64 L1133.14,355.50 L1135.88,357.15 L1138.62,360.26 L1141.37,362.10 L1144.12,363.25 L1146.86,365.96 L1149.61,366.18 L1152.35,365.14 L1155.10,371.01 L1157.84,376.73 L1160.59,385.45 L1163.33,393.98 L1166.08,403.75" fill="none" stroke="#2962ff" stroke-width="3" stroke-linejoin="round" stroke-linecap="round"/>
<line x1="149.9" y1="57.5" x2="1278.5" y2="57.5" stroke="#0000ff" stroke-width="3" stroke-dasharray="15 18"/>
<line x1="531.0" y1="520.5" x2="1278.5" y2="520.5" stroke="#0000ff" stroke-width="3" stroke-dasharray="15 18"/>
<g>
<rect x="10" y="477.53" width="1" height="22.59" fill="#20a496"/><rect x="9" y="483.60" width="3" height="14.74" fill="#20a496"/>
<rect x="13" y="481.63" width="1" height="17.34" fill="#20a496"/><rect x="12" y="483.46" width="3" height="1.04" fill="#20a496"/>
<rect x="15" y="483.08" width="1" height="13.69" fill="#ef5350"/><rect x="15" y="483.46" width="2" height="7.60" fill="#ef5350"/>
<rect x="18" y="486.13" width="1" height="12.61" fill="#ef5350"/><rect x="17" y="490.15" width="3" height="5.44" fill="#ef5350"/>
<rect x="21" y="462.71" width="1" height="45.87" fill="#20a496"/><rect x="20" y="468.56" width="3" height="27.04" fill="#20a496"/>
<rect x="24" y="459.50" width="1" height="34.84" fill="#20a496"/><rect x="23" y="465.80" width="3" height="3.66" fill="#20a496"/>
<rect x="26" y="395.96" width="1" height="72.33" fill="#20a496"/><rect x="26" y="410.01" width="2" height="56.69" fill="#20a496"/>
<rect x="29" y="384.95" width="1" height="29.94" fill="#20a496"/><rect x="28" y="401.81" width="3" height="9.10" fill="#20a496"/>
<rect x="32" y="379.10" width="1" height="61.56" fill="#ef5350"/><rect x="31" y="401.81" width="3" height="23.38" fill="#ef5350"/>
<rect x="35" y="408.37" width="1" height="22.68" fill="#20a496"/><rect x="34" y="411.18" width="3" height="14.02" fill="#20a496"/>
<rect x="37" y="410.25" width="1" height="28.07" fill="#ef5350"/><rect x="37" y="411.18" width="2" height="25.73" fill="#ef5350"/>
<rect x="40" y="417.27" width="1" height="20.57" fill="#20a496"/><rect x="39" y="426.87" width="3" height="10.03" fill="#20a496"/>
<rect x="43" y="402.75" width="1" height="28.30" fill="#20a496"/><rect x="42" y="409.07" width="3" height="18.70" fill="#20a496"/>
<rect x="46" y="407.90" width="1" height="20.81" fill="#ef5350"/><rect x="45" y="409.07" width="3" height="14.72" fill="#ef5350"/>
<rect x="48" y="418.44" width="1" height="29.47" fill="#ef5350"/><rect x="48" y="422.89" width="2" height="15.19" fill="#ef5350"/>
<rect x="51" y="428.98" width="1" height="21.74" fill="#20a496"/><rect x="50" y="432.03" width="3" height="6.05" fill="#20a496"/>
<rect x="54" y="432.03" width="1" height="9.33" fill="#ef5350"/><rect x="53" y="432.03" width="3" height="5.58" fill="#ef5350"/>
<rect x="57" y="434.13" width="1" height="7.93" fill="#ef5350"/><rect x="56" y="436.71" width="3" height="4.65" fill="#ef5350"/>
<rect x="59" y="437.65" width="1" height="38.84" fill="#ef5350"/><rect x="59" y="440.46" width="2" height="34.39" fill="#ef5350"/>
<rect x="62" y="464.58" width="1" height="44.23" fill="#ef5350"/><rect x="61" y="473.95" width="3" height="17.29" fill="#ef5350"/>
<rect x="65" y="484.96" width="1" height="16.83" fill="#ef5350"/><rect x="64" y="490.34" width="3" height="2.54" fill="#ef5350"/>
<rect x="68" y="489.64" width="1" height="18.47" fill="#ef5350"/><rect x="67" y="491.98" width="3" height="4.65" fill="#ef5350"/>
<rect x="70" y="480.27" width="1" height="21.51" fill="#20a496"/><rect x="70" y="484.02" width="2" height="12.61" fill="#20a496"/>
<rect x="73" y="480.51" width="1" height="8.39" fill="#20a496"/><rect x="72" y="484.02" width="3" height="0.90" fill="#20a496"/>
<rect x="76" y="474.42" width="1" height="16.59" fill="#ef5350"/><rect x="75" y="484.02" width="3" height="3.48" fill="#ef5350"/>
<rect x="79" y="470.90" width="1" height="21.98" fill="#20a496"/><rect x="78" y="472.31" width="3" height="15.19" fill="#20a496"/>
<rect x="81" y="454.74" width="1" height="23.15" fill="#20a496"/><rect x="81" y="466.22" width="2" height="6.99" fill="#20a496"/>
<rect x="84" y="464.11" width="1" height="21.74" fill="#ef5350"/><rect x="83" y="466.22" width="3" height="15.19" fill="#ef5350"/>
<rect x="87" y="473.71" width="1" height="17.53" fill="#20a496"/><rect x="86" y="475.35" width="3" height="6.05" fill="#20a496"/>
<rect x="90" y="470.67" width="1" height="10.50" fill="#20a496"/><rect x="89" y="474.42" width="3" height="1.84" fill="#20a496"/>
<rect x="92" y="469.73" width="1" height="9.57" fill="#ef5350"/><rect x="92" y="474.42" width="2" height="3.71" fill="#ef5350"/>
<rect x="95" y="473.95" width="1" height="11.20" fill="#ef5350"/><rect x="94" y="477.23" width="3" height="2.54" fill="#ef5350"/>
<rect x="98" y="467.39" width="1" height="17.53" fill="#20a496"/><rect x="97" y="476.76" width="3" height="3.01" fill="#20a496"/>
<rect x="101" y="454.51" width="1" height="25.26" fill="#20a496"/><rect x="100" y="459.43" width="3" height="18.23" fill="#20a496"/>
<rect x="103" y="442.57" width="1" height="22.68" fill="#20a496"/><rect x="103" y="447.25" width="2" height="13.08" fill="#20a496"/>
<rect x="106" y="438.12" width="1" height="13.55" fill="#ef5350"/><rect x="105" y="447.25" width="3" height="2.07" fill="#ef5350"/>
<rect x="109" y="423.59" width="1" height="27.36" fill="#20a496"/><rect x="108" y="432.49" width="3" height="16.83" fill="#20a496"/>
<rect x="111" y="425.47" width="1" height="11.20" fill="#20a496"/><rect x="111" y="429.45" width="2" height="3.94" fill="#20a496"/>
<rect x="114" y="420.08" width="1" height="15.65" fill="#20a496"/><rect x="113" y="427.81" width="3" height="2.54" fill="#20a496"/>
<rect x="117" y="390.57" width="1" height="46.33" fill="#20a496"/><rect x="116" y="392.21" width="3" height="36.50" fill="#20a496"/>
<rect x="120" y="385.89" width="1" height="23.38" fill="#ef5350"/><rect x="119" y="392.21" width="3" height="5.12" fill="#ef5350"/>
<rect x="122" y="362.23" width="1" height="40.01" fill="#20a496"/><rect x="122" y="364.58" width="2" height="32.75" fill="#20a496"/>
<rect x="125" y="343.26" width="1" height="26.66" fill="#20a496"/><rect x="124" y="353.57" width="3" height="11.91" fill="#20a496"/>
<rect x="128" y="345.61" width="1" height="23.62" fill="#ef5350"/><rect x="127" y="353.57" width="3" height="5.82" fill="#ef5350"/>
<rect x="131" y="358.02" width="1" height="21.28" fill="#ef5350"/><rect x="130" y="358.49" width="3" height="4.88" fill="#ef5350"/>
<rect x="133" y="336.94" width="1" height="32.05" fill="#20a496"/><rect x="133" y="340.22" width="2" height="23.15" fill="#20a496"/>
<rect x="136" y="316.10" width="1" height="30.64" fill="#20a496"/><rect x="135" y="325.47" width="3" height="15.65" fill="#20a496"/>
<rect x="139" y="304.62" width="1" height="37.90" fill="#20a496"/><rect x="138" y="308.84" width="3" height="17.53" fill="#20a496"/>
<rect x="142" y="304.86" width="1" height="39.54" fill="#ef5350"/><rect x="141" y="308.84" width="3" height="11.67" fill="#ef5350"/>
<rect x="144" y="304.15" width="1" height="31.35" fill="#20a496"/><rect x="144" y="319.14" width="2" height="1.37" fill="#20a496"/>
<rect x="147" y="313.76" width="1" height="21.51" fill="#ef5350"/><rect x="146" y="319.14" width="3" height="12.38" fill="#ef5350"/>
<rect x="150" y="310.71" width="1" height="24.55" fill="#20a496"/><rect x="149" y="314.22" width="3" height="17.29" fill="#20a496"/>
<rect x="153" y="283.78" width="1" height="33.22" fill="#20a496"/><rect x="152" y="285.89" width="3" height="29.24" fill="#20a496"/>
<rect x="155" y="266.21" width="1" height="38.61" fill="#20a496"/><rect x="155" y="270.66" width="2" height="16.12" fill="#20a496"/>
<rect x="158" y="244.90" width="1" height="30.18" fill="#20a496"/><rect x="157" y="255.67" width="3" height="15.89" fill="#20a496"/>
<rect x="161" y="198.06" width="1" height="73.74" fill="#20a496"/><rect x="160" y="222.18" width="3" height="34.39" fill="#20a496"/>
<rect x="164" y="190.10" width="1" height="52.89" fill="#ef5350"/><rect x="163" y="222.18" width="3" height="11.44" fill="#ef5350"/>
<rect x="166" y="206.26" width="1" height="31.58" fill="#20a496"/><rect x="166" y="210.71" width="2" height="22.91" fill="#20a496"/>
<rect x="169" y="204.38" width="1" height="17.06" fill="#ef5350"/><rect x="168" y="210.71" width="3" height="4.18" fill="#ef5350"/>
<rect x="172" y="197.36" width="1" height="31.58" fill="#20a496"/><rect x="171" y="198.06" width="3" height="16.83" fill="#20a496"/>
<rect x="175" y="162.23" width="1" height="51.72" fill="#20a496"/><rect x="174" y="165.04" width="3" height="33.92" fill="#20a496"/>
<rect x="177" y="119.84" width="1" height="146.57" fill="#ef5350"/><rect x="177" y="165.04" width="2" height="18.70" fill="#ef5350"/>
<rect x="180" y="101.57" width="1" height="95.05" fill="#20a496"/><rect x="179" y="120.77" width="3" height="62.96" fill="#20a496"/>
<rect x="183" y="93.14" width="1" height="47.97" fill="#20a496"/><rect x="182" y="108.83" width="3" height="12.84" fill="#20a496"/>
<rect x="186" y="79.79" width="1" height="40.95" fill="#20a496"/><rect x="185" y="105.55" width="3" height="4.18" fill="#20a496"/>
<rect x="188" y="89.86" width="1" height="18.47" fill="#20a496"/><rect x="188" y="100.16" width="2" height="6.29" fill="#20a496"/>
<rect x="191" y="85.18" width="1" height="41.89" fill="#ef5350"/><rect x="190" y="100.16" width="3" height="7.46" fill="#ef5350"/>
<rect x="194" y="58.01" width="1" height="84.74" fill="#20a496"/><rect x="193" y="63.16" width="3" height="44.46" fill="#20a496"/>
<rect x="197" y="56.16" width="1" height="62.94" fill="#ef5350"/><rect x="196" y="63.16" width="3" height="20.81" fill="#ef5350"/>
<rect x="199" y="58.71" width="1" height="36.50" fill="#20a496"/><rect x="199" y="77.21" width="2" height="6.76" fill="#20a496"/>
<rect x="202" y="75.57" width="1" height="68.35" fill="#ef5350"/><rect x="201" y="77.21" width="3" height="29.71" fill="#ef5350"/>
<rect x="205" y="93.84" width="1" height="85.91" fill="#ef5350"/><rect x="204" y="106.02" width="3" height="33.45" fill="#ef5350"/>
<rect x="208" y="129.21" width="1" height="74.91" fill="#ef5350"/><rect x="207" y="138.57" width="3" height="52.42" fill="#ef5350"/>
<rect x="210" y="153.56" width="1" height="63.43" fill="#20a496"/><rect x="210" y="161.76" width="2" height="29.24" fill="#20a496"/>
<rect x="213" y="161.29" width="1" height="45.63" fill="#ef5350"/><rect x="212" y="161.76" width="3" height="29.71" fill="#ef5350"/>
<rect x="216" y="184.01" width="1" height="94.11" fill="#ef5350"/><rect x="215" y="190.57" width="3" height="85.68" fill="#ef5350"/>
<rect x="219" y="187.05" width="1" height="113.08" fill="#20a496"/><rect x="218" y="192.21" width="3" height="84.04" fill="#20a496"/>
<rect x="221" y="174.17" width="1" height="42.59" fill="#ef5350"/><rect x="221" y="192.21" width="2" height="5.82" fill="#ef5350"/>
<rect x="224" y="185.41" width="1" height="69.29" fill="#ef5350"/><rect x="223" y="197.12" width="3" height="37.44" fill="#ef5350"/>
<rect x="227" y="210.47" width="1" height="39.54" fill="#ef5350"/><rect x="226" y="233.66" width="3" height="2.54" fill="#ef5350"/>
<rect x="230" y="202.04" width="1" height="41.18" fill="#20a496"/><rect x="229" y="206.02" width="3" height="30.17" fill="#20a496"/>
<rect x="232" y="156.37" width="1" height="60.86" fill="#20a496"/><rect x="232" y="174.17" width="2" height="32.75" fill="#20a496"/>
<rect x="235" y="153.56" width="1" height="32.99" fill="#ef5350"/><rect x="234" y="174.17" width="3" height="1.60" fill="#ef5350"/>
<rect x="238" y="156.61" width="1" height="48.91" fill="#ef5350"/><rect x="237" y="174.87" width="3" height="21.28" fill="#ef5350"/>
<rect x="241" y="169.49" width="1" height="34.86" fill="#20a496"/><rect x="240" y="180.96" width="3" height="15.19" fill="#20a496"/>
<rect x="243" y="175.58" width="1" height="33.45" fill="#ef5350"/><rect x="243" y="180.96" width="2" height="12.61" fill="#ef5350"/>
<rect x="246" y="180.03" width="1" height="19.64" fill="#ef5350"/><rect x="245" y="192.67" width="3" height="2.31" fill="#ef5350"/>
<rect x="249" y="158.95" width="1" height="37.67" fill="#20a496"/><rect x="248" y="161.06" width="3" height="33.92" fill="#20a496"/>
<rect x="251" y="160.12" width="1" height="56.64" fill="#ef5350"/><rect x="251" y="161.06" width="2" height="33.92" fill="#ef5350"/>
<rect x="254" y="193.84" width="1" height="69.75" fill="#ef5350"/><rect x="253" y="194.08" width="3" height="54.06" fill="#ef5350"/>
<rect x="257" y="226.16" width="1" height="39.54" fill="#20a496"/><rect x="256" y="239.75" width="3" height="8.39" fill="#20a496"/>
<rect x="260" y="208.37" width="1" height="45.63" fill="#20a496"/><rect x="259" y="235.77" width="3" height="4.88" fill="#20a496"/>
<rect x="262" y="230.38" width="1" height="33.69" fill="#ef5350"/><rect x="262" y="235.77" width="2" height="3.01" fill="#ef5350"/>
<rect x="265" y="218.67" width="1" height="22.91" fill="#20a496"/><rect x="264" y="229.44" width="3" height="9.33" fill="#20a496"/>
<rect x="268" y="204.62" width="1" height="30.17" fill="#20a496"/><rect x="267" y="206.02" width="3" height="24.32" fill="#20a496"/>
<rect x="271" y="141.38" width="1" height="76.78" fill="#20a496"/><rect x="270" y="149.58" width="3" height="57.34" fill="#20a496"/>
<rect x="273" y="142.09" width="1" height="65.77" fill="#ef5350"/><rect x="273" y="149.58" width="2" height="45.40" fill="#ef5350"/>
<rect x="276" y="180.73" width="1" height="36.03" fill="#20a496"/><rect x="275" y="184.71" width="3" height="10.27" fill="#20a496"/>
<rect x="279" y="167.85" width="1" height="33.92" fill="#ef5350"/><rect x="278" y="184.71" width="3" height="10.74" fill="#ef5350"/>
<rect x="282" y="182.84" width="1" height="106.99" fill="#ef5350"/><rect x="281" y="194.55" width="3" height="63.20" fill="#ef5350"/>
<rect x="284" y="241.86" width="1" height="106.06" fill="#ef5350"/><rect x="284" y="256.84" width="2" height="55.47" fill="#ef5350"/>
<rect x="287" y="271.37" width="1" height="63.90" fill="#20a496"/><rect x="286" y="275.81" width="3" height="36.50" fill="#20a496"/>
<rect x="290" y="247.24" width="1" height="60.15" fill="#ef5350"/><rect x="289" y="275.81" width="3" height="13.78" fill="#ef5350"/>
<rect x="293" y="281.90" width="1" height="34.39" fill="#ef5350"/><rect x="292" y="288.70" width="3" height="4.88" fill="#ef5350"/>
<rect x="295" y="283.31" width="1" height="49.61" fill="#ef5350"/><rect x="295" y="292.68" width="2" height="24.09" fill="#ef5350"/>
<rect x="298" y="290.10" width="1" height="34.39" fill="#20a496"/><rect x="297" y="296.89" width="3" height="19.87" fill="#20a496"/>
<rect x="301" y="282.37" width="1" height="62.49" fill="#ef5350"/><rect x="300" y="296.89" width="3" height="3.01" fill="#ef5350"/>
<rect x="304" y="272.07" width="1" height="36.50" fill="#20a496"/><rect x="303" y="275.81" width="3" height="24.09" fill="#20a496"/>
<rect x="306" y="266.21" width="1" height="19.64" fill="#ef5350"/><rect x="306" y="275.81" width="2" height="3.01" fill="#ef5350"/>
<rect x="309" y="257.08" width="1" height="26.19" fill="#20a496"/><rect x="308" y="265.28" width="3" height="13.55" fill="#20a496"/>
<rect x="312" y="250.52" width="1" height="26.90" fill="#20a496"/><rect x="311" y="261.06" width="3" height="5.12" fill="#20a496"/>
<rect x="315" y="243.73" width="1" height="44.93" fill="#ef5350"/><rect x="314" y="261.06" width="3" height="19.40" fill="#ef5350"/>
<rect x="317" y="267.62" width="1" height="28.54" fill="#20a496"/><rect x="317" y="275.81" width="2" height="4.65" fill="#20a496"/>
<rect x="320" y="273.00" width="1" height="16.36" fill="#ef5350"/><rect x="319" y="275.81" width="3" height="6.75" fill="#ef5350"/>
<rect x="323" y="245.37" width="1" height="52.19" fill="#20a496"/><rect x="322" y="253.10" width="3" height="29.47" fill="#20a496"/>
<rect x="326" y="228.74" width="1" height="25.96" fill="#20a496"/><rect x="325" y="250.76" width="3" height="3.24" fill="#20a496"/>
<rect x="328" y="245.37" width="1" height="40.71" fill="#ef5350"/><rect x="328" y="250.76" width="2" height="11.91" fill="#ef5350"/>
<rect x="331" y="253.80" width="1" height="77.95" fill="#ef5350"/><rect x="330" y="261.76" width="3" height="48.68" fill="#ef5350"/>
<rect x="334" y="306.96" width="1" height="49.15" fill="#ef5350"/><rect x="333" y="309.54" width="3" height="10.74" fill="#ef5350"/>
<rect x="337" y="308.60" width="1" height="29.47" fill="#20a496"/><rect x="336" y="315.39" width="3" height="4.88" fill="#20a496"/>
<rect x="339" y="282.37" width="1" height="40.71" fill="#20a496"/><rect x="339" y="288.23" width="2" height="28.07" fill="#20a496"/>
<rect x="342" y="273.00" width="1" height="18.23" fill="#20a496"/><rect x="341" y="284.95" width="3" height="4.18" fill="#20a496"/>
<rect x="345" y="272.30" width="1" height="23.85" fill="#20a496"/><rect x="344" y="280.26" width="3" height="5.58" fill="#20a496"/>
<rect x="348" y="260.59" width="1" height="41.65" fill="#ef5350"/><rect x="347" y="280.26" width="3" height="18.46" fill="#ef5350"/>
<rect x="350" y="282.14" width="1" height="31.58" fill="#ef5350"/><rect x="350" y="297.83" width="2" height="14.02" fill="#ef5350"/>
<rect x="353" y="303.45" width="1" height="24.79" fill="#ef5350"/><rect x="352" y="310.94" width="3" height="8.39" fill="#ef5350"/>
<rect x="356" y="298.53" width="1" height="26.43" fill="#20a496"/><rect x="355" y="303.92" width="3" height="15.42" fill="#20a496"/>
<rect x="359" y="299.94" width="1" height="41.88" fill="#ef5350"/><rect x="358" y="303.92" width="3" height="30.64" fill="#ef5350"/>
<rect x="361" y="325.23" width="1" height="14.72" fill="#20a496"/><rect x="361" y="332.96" width="2" height="1.60" fill="#20a496"/>
<rect x="364" y="322.89" width="1" height="13.55" fill="#20a496"/><rect x="363" y="328.98" width="3" height="4.88" fill="#20a496"/>
<rect x="367" y="313.29" width="1" height="31.81" fill="#20a496"/><rect x="366" y="324.06" width="3" height="5.82" fill="#20a496"/>
<rect x="370" y="321.72" width="1" height="23.85" fill="#ef5350"/><rect x="369" y="324.06" width="3" height="17.06" fill="#ef5350"/>
<rect x="372" y="302.75" width="1" height="42.59" fill="#20a496"/><rect x="372" y="304.86" width="2" height="36.26" fill="#20a496"/>
<rect x="375" y="302.75" width="1" height="28.77" fill="#ef5350"/><rect x="374" y="304.86" width="3" height="21.51" fill="#ef5350"/>
<rect x="378" y="284.01" width="1" height="45.40" fill="#20a496"/><rect x="377" y="290.80" width="3" height="35.56" fill="#20a496"/>
<rect x="381" y="277.92" width="1" height="16.36" fill="#20a496"/><rect x="380" y="283.78" width="3" height="7.93" fill="#20a496"/>
<rect x="383" y="280.03" width="1" height="20.81" fill="#ef5350"/><rect x="383" y="283.78" width="2" height="12.84" fill="#ef5350"/>
<rect x="386" y="149.82" width="1" height="152.43" fill="#20a496"/><rect x="385" y="157.54" width="3" height="139.08" fill="#20a496"/>
<rect x="389" y="116.09" width="1" height="50.78" fill="#20a496"/><rect x="388" y="127.57" width="3" height="30.88" fill="#20a496"/>
<rect x="391" y="121.71" width="1" height="39.31" fill="#ef5350"/><rect x="391" y="127.57" width="2" height="13.08" fill="#ef5350"/>
<rect x="394" y="90.09" width="1" height="106.52" fill="#20a496"/><rect x="393" y="128.97" width="3" height="11.67" fill="#20a496"/>
<rect x="397" y="118.43" width="1" height="48.21" fill="#ef5350"/><rect x="396" y="128.97" width="3" height="13.78" fill="#ef5350"/>
<rect x="400" y="129.67" width="1" height="17.53" fill="#20a496"/><rect x="399" y="136.93" width="3" height="5.82" fill="#20a496"/>
<rect x="402" y="106.25" width="1" height="35.80" fill="#20a496"/><rect x="402" y="118.90" width="2" height="18.93" fill="#20a496"/>
<rect x="405" y="84.47" width="1" height="36.50" fill="#20a496"/><rect x="404" y="103.44" width="3" height="16.36" fill="#20a496"/>
<rect x="408" y="94.54" width="1" height="38.37" fill="#ef5350"/><rect x="407" y="103.44" width="3" height="13.08" fill="#ef5350"/>
<rect x="411" y="104.38" width="1" height="35.09" fill="#ef5350"/><rect x="410" y="115.62" width="3" height="18.93" fill="#ef5350"/>
<rect x="413" y="119.13" width="1" height="29.71" fill="#ef5350"/><rect x="413" y="133.66" width="2" height="4.88" fill="#ef5350"/>
<rect x="416" y="114.45" width="1" height="29.47" fill="#20a496"/><rect x="415" y="134.36" width="3" height="4.18" fill="#20a496"/>
<rect x="419" y="117.50" width="1" height="20.81" fill="#20a496"/><rect x="418" y="121.71" width="3" height="13.55" fill="#20a496"/>
<rect x="422" y="116.32" width="1" height="20.81" fill="#ef5350"/><rect x="421" y="121.71" width="3" height="8.63" fill="#ef5350"/>
<rect x="424" y="113.28" width="1" height="22.45" fill="#ef5350"/><rect x="424" y="129.44" width="2" height="3.94" fill="#ef5350"/>
<rect x="427" y="117.50" width="1" height="24.79" fill="#20a496"/><rect x="426" y="122.65" width="3" height="10.74" fill="#20a496"/>
<rect x="430" y="104.38" width="1" height="27.13" fill="#20a496"/><rect x="429" y="109.77" width="3" height="13.78" fill="#20a496"/>
<rect x="433" y="106.49" width="1" height="28.77" fill="#ef5350"/><rect x="432" y="109.77" width="3" height="13.08" fill="#ef5350"/>
<rect x="435" y="115.15" width="1" height="57.58" fill="#ef5350"/><rect x="435" y="121.95" width="2" height="32.28" fill="#ef5350"/>
<rect x="438" y="146.07" width="1" height="11.44" fill="#20a496"/><rect x="437" y="152.63" width="3" height="1.60" fill="#20a496"/>
<rect x="441" y="143.49" width="1" height="14.02" fill="#20a496"/><rect x="440" y="147.00" width="3" height="6.52" fill="#20a496"/>
<rect x="444" y="145.37" width="1" height="17.29" fill="#ef5350"/><rect x="443" y="147.00" width="3" height="10.03" fill="#ef5350"/>
<rect x="446" y="154.73" width="1" height="57.34" fill="#ef5350"/><rect x="446" y="156.14" width="2" height="40.48" fill="#ef5350"/>
<rect x="449" y="157.78" width="1" height="47.27" fill="#20a496"/><rect x="448" y="181.20" width="3" height="15.42" fill="#20a496"/>
<rect x="452" y="180.50" width="1" height="32.52" fill="#ef5350"/><rect x="451" y="181.20" width="3" height="22.21" fill="#ef5350"/>
<rect x="455" y="187.76" width="1" height="40.71" fill="#20a496"/><rect x="454" y="199.70" width="3" height="3.71" fill="#20a496"/>
<rect x="457" y="173.47" width="1" height="29.00" fill="#20a496"/><rect x="457" y="179.32" width="2" height="21.28" fill="#20a496"/>
<rect x="460" y="159.42" width="1" height="27.13" fill="#20a496"/><rect x="459" y="166.21" width="3" height="14.02" fill="#20a496"/>
<rect x="463" y="163.40" width="1" height="41.42" fill="#ef5350"/><rect x="462" y="166.21" width="3" height="27.36" fill="#ef5350"/>
<rect x="466" y="191.50" width="1" height="38.61" fill="#ef5350"/><rect x="465" y="192.67" width="3" height="7.46" fill="#ef5350"/>
<rect x="468" y="174.17" width="1" height="30.41" fill="#20a496"/><rect x="468" y="181.20" width="2" height="18.93" fill="#20a496"/>
<rect x="471" y="165.98" width="1" height="33.45" fill="#ef5350"/><rect x="470" y="181.20" width="3" height="12.38" fill="#ef5350"/>
<rect x="474" y="184.24" width="1" height="24.55" fill="#20a496"/><rect x="473" y="191.03" width="3" height="2.54" fill="#20a496"/>
<rect x="477" y="190.10" width="1" height="11.67" fill="#ef5350"/><rect x="476" y="191.03" width="3" height="6.29" fill="#ef5350"/>
<rect x="479" y="190.33" width="1" height="27.83" fill="#ef5350"/><rect x="479" y="196.42" width="2" height="18.46" fill="#ef5350"/>
<rect x="482" y="210.47" width="1" height="46.57" fill="#ef5350"/><rect x="481" y="213.99" width="3" height="17.06" fill="#ef5350"/>
<rect x="485" y="211.64" width="1" height="22.91" fill="#20a496"/><rect x="484" y="220.08" width="3" height="10.97" fill="#20a496"/>
<rect x="488" y="212.58" width="1" height="24.55" fill="#ef5350"/><rect x="487" y="220.08" width="3" height="6.29" fill="#ef5350"/>
<rect x="490" y="200.64" width="1" height="28.07" fill="#20a496"/><rect x="490" y="206.96" width="2" height="19.40" fill="#20a496"/>
<rect x="493" y="198.29" width="1" height="31.35" fill="#ef5350"/><rect x="492" y="206.96" width="3" height="17.29" fill="#ef5350"/>
<rect x="496" y="217.03" width="1" height="10.74" fill="#ef5350"/><rect x="495" y="223.35" width="3" height="1.37" fill="#ef5350"/>
<rect x="499" y="205.09" width="1" height="25.73" fill="#20a496"/><rect x="498" y="209.77" width="3" height="14.95" fill="#20a496"/>
<rect x="501" y="189.63" width="1" height="24.55" fill="#20a496"/><rect x="501" y="208.83" width="2" height="1.84" fill="#20a496"/>
<rect x="504" y="203.45" width="1" height="15.65" fill="#ef5350"/><rect x="503" y="208.83" width="3" height="5.82" fill="#ef5350"/>
<rect x="507" y="211.18" width="1" height="43.29" fill="#ef5350"/><rect x="506" y="213.75" width="3" height="30.41" fill="#ef5350"/>
<rect x="510" y="239.05" width="1" height="62.73" fill="#ef5350"/><rect x="509" y="243.26" width="3" height="56.17" fill="#ef5350"/>
<rect x="512" y="286.59" width="1" height="71.16" fill="#ef5350"/><rect x="512" y="298.53" width="2" height="19.17" fill="#ef5350"/>
<rect x="515" y="293.15" width="1" height="30.64" fill="#20a496"/><rect x="514" y="296.89" width="3" height="20.81" fill="#20a496"/>
<rect x="518" y="295.02" width="1" height="36.50" fill="#ef5350"/><rect x="517" y="296.89" width="3" height="32.75" fill="#ef5350"/>
<rect x="521" y="289.63" width="1" height="65.30" fill="#20a496"/><rect x="520" y="307.90" width="3" height="21.74" fill="#20a496"/>
<rect x="523" y="285.18" width="1" height="27.36" fill="#20a496"/><rect x="523" y="296.89" width="2" height="11.91" fill="#20a496"/>
<rect x="526" y="276.75" width="1" height="30.64" fill="#20a496"/><rect x="525" y="288.70" width="3" height="9.10" fill="#20a496"/>
<rect x="529" y="261.53" width="1" height="39.31" fill="#ef5350"/><rect x="528" y="288.70" width="3" height="1.37" fill="#ef5350"/>
<rect x="531" y="275.58" width="1" height="26.90" fill="#20a496"/><rect x="531" y="281.20" width="2" height="8.86" fill="#20a496"/>
<rect x="534" y="265.28" width="1" height="21.51" fill="#20a496"/><rect x="533" y="271.37" width="3" height="10.74" fill="#20a496"/>
<rect x="537" y="249.12" width="1" height="25.96" fill="#20a496"/><rect x="536" y="254.97" width="3" height="17.29" fill="#20a496"/>
<rect x="540" y="195.72" width="1" height="62.96" fill="#20a496"/><rect x="539" y="199.23" width="3" height="56.64" fill="#20a496"/>
<rect x="542" y="195.48" width="1" height="36.73" fill="#ef5350"/><rect x="542" y="199.23" width="2" height="10.03" fill="#ef5350"/>
<rect x="545" y="191.27" width="1" height="33.92" fill="#ef5350"/><rect x="544" y="208.37" width="3" height="14.25" fill="#ef5350"/>
<rect x="548" y="197.83" width="1" height="29.47" fill="#20a496"/><rect x="547" y="212.58" width="3" height="10.03" fill="#20a496"/>
<rect x="551" y="185.65" width="1" height="39.31" fill="#20a496"/><rect x="550" y="194.55" width="3" height="18.93" fill="#20a496"/>
<rect x="553" y="185.88" width="1" height="14.95" fill="#20a496"/><rect x="553" y="191.27" width="2" height="4.18" fill="#20a496"/>
<rect x="556" y="184.24" width="1" height="32.75" fill="#20a496"/><rect x="555" y="187.05" width="3" height="5.12" fill="#20a496"/>
<rect x="559" y="180.73" width="1" height="33.22" fill="#ef5350"/><rect x="558" y="187.05" width="3" height="23.38" fill="#ef5350"/>
<rect x="562" y="185.88" width="1" height="36.03" fill="#20a496"/><rect x="561" y="199.47" width="3" height="10.97" fill="#20a496"/>
<rect x="564" y="195.95" width="1" height="46.57" fill="#ef5350"/><rect x="564" y="199.47" width="2" height="35.33" fill="#ef5350"/>
<rect x="567" y="232.02" width="1" height="60.86" fill="#ef5350"/><rect x="566" y="233.89" width="3" height="38.37" fill="#ef5350"/>
<rect x="570" y="245.37" width="1" height="28.07" fill="#20a496"/><rect x="569" y="247.94" width="3" height="24.32" fill="#20a496"/>
<rect x="573" y="235.53" width="1" height="32.99" fill="#ef5350"/><rect x="572" y="247.94" width="3" height="6.99" fill="#ef5350"/>
<rect x="575" y="245.84" width="1" height="21.04" fill="#20a496"/><rect x="575" y="248.88" width="2" height="6.05" fill="#20a496"/>
<rect x="578" y="219.61" width="1" height="33.69" fill="#20a496"/><rect x="577" y="237.87" width="3" height="11.91" fill="#20a496"/>
<rect x="581" y="226.63" width="1" height="32.05" fill="#ef5350"/><rect x="580" y="237.87" width="3" height="10.03" fill="#ef5350"/>
<rect x="584" y="230.38" width="1" height="32.99" fill="#ef5350"/><rect x="583" y="247.01" width="3" height="11.67" fill="#ef5350"/>
<rect x="586" y="255.67" width="1" height="38.84" fill="#ef5350"/><rect x="586" y="257.78" width="2" height="7.93" fill="#ef5350"/>
<rect x="589" y="261.29" width="1" height="59.68" fill="#ef5350"/><rect x="588" y="264.81" width="3" height="51.02" fill="#ef5350"/>
<rect x="592" y="308.13" width="1" height="38.14" fill="#ef5350"/><rect x="591" y="314.93" width="3" height="21.04" fill="#ef5350"/>
<rect x="595" y="327.57" width="1" height="72.33" fill="#ef5350"/><rect x="594" y="335.07" width="3" height="51.25" fill="#ef5350"/>
<rect x="597" y="383.31" width="1" height="138.14" fill="#ef5350"/><rect x="597" y="385.42" width="2" height="63.90" fill="#ef5350"/>
<rect x="600" y="416.33" width="1" height="34.62" fill="#20a496"/><rect x="599" y="438.58" width="3" height="10.74" fill="#20a496"/>
<rect x="603" y="417.51" width="1" height="57.34" fill="#ef5350"/><rect x="602" y="438.58" width="3" height="28.77" fill="#ef5350"/>
<rect x="606" y="376.99" width="1" height="95.28" fill="#20a496"/><rect x="605" y="386.59" width="3" height="80.76" fill="#20a496"/>
<rect x="608" y="380.97" width="1" height="36.97" fill="#ef5350"/><rect x="608" y="386.59" width="2" height="20.81" fill="#ef5350"/>
<rect x="611" y="395.73" width="1" height="16.83" fill="#20a496"/><rect x="610" y="403.92" width="3" height="3.48" fill="#20a496"/>
<rect x="614" y="377.93" width="1" height="43.06" fill="#ef5350"/><rect x="613" y="403.92" width="3" height="13.55" fill="#ef5350"/>
<rect x="617" y="370.90" width="1" height="57.11" fill="#20a496"/><rect x="616" y="377.46" width="3" height="40.01" fill="#20a496"/>
<rect x="619" y="373.71" width="1" height="30.88" fill="#ef5350"/><rect x="619" y="377.46" width="2" height="5.35" fill="#ef5350"/>
<rect x="622" y="363.87" width="1" height="35.56" fill="#ef5350"/><rect x="621" y="381.91" width="3" height="10.74" fill="#ef5350"/>
<rect x="625" y="388.46" width="1" height="38.37" fill="#ef5350"/><rect x="624" y="391.74" width="3" height="22.45" fill="#ef5350"/>
<rect x="628" y="398.77" width="1" height="19.64" fill="#20a496"/><rect x="627" y="407.90" width="3" height="6.29" fill="#20a496"/>
<rect x="630" y="399.00" width="1" height="10.97" fill="#20a496"/><rect x="630" y="402.75" width="2" height="6.05" fill="#20a496"/>
<rect x="633" y="384.95" width="1" height="23.15" fill="#ef5350"/><rect x="632" y="402.75" width="3" height="1.13" fill="#ef5350"/>
<rect x="636" y="394.32" width="1" height="21.28" fill="#20a496"/><rect x="635" y="397.36" width="3" height="6.52" fill="#20a496"/>
<rect x="639" y="383.55" width="1" height="33.92" fill="#ef5350"/><rect x="638" y="397.36" width="3" height="15.89" fill="#ef5350"/>
<rect x="641" y="391.28" width="1" height="30.64" fill="#20a496"/><rect x="641" y="398.77" width="2" height="14.48" fill="#20a496"/>
<rect x="644" y="395.49" width="1" height="15.19" fill="#ef5350"/><rect x="643" y="398.77" width="3" height="2.77" fill="#ef5350"/>
<rect x="647" y="359.19" width="1" height="45.40" fill="#20a496"/><rect x="646" y="367.62" width="3" height="33.92" fill="#20a496"/>
<rect x="650" y="354.51" width="1" height="21.74" fill="#20a496"/><rect x="649" y="366.68" width="3" height="1.84" fill="#20a496"/>
<rect x="652" y="360.83" width="1" height="14.95" fill="#ef5350"/><rect x="652" y="366.68" width="2" height="6.05" fill="#ef5350"/>
<rect x="655" y="367.86" width="1" height="23.62" fill="#ef5350"/><rect x="654" y="371.84" width="3" height="16.36" fill="#ef5350"/>
<rect x="658" y="382.61" width="1" height="72.80" fill="#ef5350"/><rect x="657" y="387.29" width="3" height="52.89" fill="#ef5350"/>
<rect x="660" y="416.80" width="1" height="32.75" fill="#20a496"/><rect x="660" y="422.89" width="2" height="17.29" fill="#20a496"/>
<rect x="663" y="407.20" width="1" height="21.98" fill="#ef5350"/><rect x="662" y="422.89" width="3" height="1.13" fill="#ef5350"/>
<rect x="666" y="416.33" width="1" height="30.17" fill="#ef5350"/><rect x="665" y="423.13" width="3" height="1.13" fill="#ef5350"/>
<rect x="669" y="421.72" width="1" height="10.74" fill="#ef5350"/><rect x="668" y="423.36" width="3" height="3.94" fill="#ef5350"/>
<rect x="671" y="425.70" width="1" height="28.07" fill="#ef5350"/><rect x="671" y="426.41" width="2" height="21.04" fill="#ef5350"/>
<rect x="674" y="414.46" width="1" height="39.31" fill="#20a496"/><rect x="673" y="420.55" width="3" height="26.90" fill="#20a496"/>
<rect x="677" y="417.04" width="1" height="34.16" fill="#ef5350"/><rect x="676" y="420.55" width="3" height="27.36" fill="#ef5350"/>
<rect x="680" y="431.79" width="1" height="43.99" fill="#20a496"/><rect x="679" y="441.16" width="3" height="6.75" fill="#20a496"/>
<rect x="682" y="437.41" width="1" height="28.54" fill="#ef5350"/><rect x="682" y="441.16" width="2" height="20.10" fill="#ef5350"/>
<rect x="685" y="451.00" width="1" height="61.32" fill="#ef5350"/><rect x="684" y="460.36" width="3" height="34.39" fill="#ef5350"/>
<rect x="688" y="473.48" width="1" height="21.98" fill="#20a496"/><rect x="687" y="482.38" width="3" height="12.38" fill="#20a496"/>
<rect x="691" y="468.56" width="1" height="22.68" fill="#20a496"/><rect x="690" y="476.99" width="3" height="6.29" fill="#20a496"/>
<rect x="693" y="457.32" width="1" height="26.43" fill="#20a496"/><rect x="693" y="462.24" width="2" height="15.65" fill="#20a496"/>
<rect x="696" y="452.87" width="1" height="19.64" fill="#20a496"/><rect x="695" y="455.45" width="3" height="7.69" fill="#20a496"/>
<rect x="699" y="455.21" width="1" height="27.36" fill="#ef5350"/><rect x="698" y="455.45" width="3" height="12.14" fill="#ef5350"/>
<rect x="702" y="454.51" width="1" height="19.17" fill="#20a496"/><rect x="701" y="462.00" width="3" height="5.58" fill="#20a496"/>
<rect x="704" y="437.65" width="1" height="30.88" fill="#20a496"/><rect x="704" y="443.50" width="2" height="19.40" fill="#20a496"/>
<rect x="707" y="443.27" width="1" height="16.12" fill="#ef5350"/><rect x="706" y="443.50" width="3" height="6.29" fill="#ef5350"/>
<rect x="710" y="445.61" width="1" height="35.56" fill="#ef5350"/><rect x="709" y="448.89" width="3" height="24.55" fill="#ef5350"/>
<rect x="713" y="467.86" width="1" height="20.57" fill="#ef5350"/><rect x="712" y="472.54" width="3" height="5.58" fill="#ef5350"/>
<rect x="715" y="454.51" width="1" height="31.58" fill="#20a496"/><rect x="715" y="466.45" width="2" height="11.67" fill="#20a496"/>
<rect x="718" y="458.49" width="1" height="24.09" fill="#20a496"/><rect x="717" y="458.72" width="3" height="8.63" fill="#20a496"/>
<rect x="721" y="430.62" width="1" height="29.71" fill="#20a496"/><rect x="720" y="437.65" width="3" height="21.98" fill="#20a496"/>
<rect x="724" y="412.59" width="1" height="32.75" fill="#20a496"/><rect x="723" y="415.16" width="3" height="23.38" fill="#20a496"/>
<rect x="726" y="400.64" width="1" height="23.15" fill="#20a496"/><rect x="726" y="403.22" width="2" height="12.84" fill="#20a496"/>
<rect x="729" y="398.30" width="1" height="25.96" fill="#ef5350"/><rect x="728" y="403.22" width="3" height="8.16" fill="#ef5350"/>
<rect x="732" y="381.91" width="1" height="39.07" fill="#20a496"/><rect x="731" y="395.02" width="3" height="16.36" fill="#20a496"/>
<rect x="735" y="388.93" width="1" height="20.10" fill="#20a496"/><rect x="734" y="393.62" width="3" height="2.31" fill="#20a496"/>
<rect x="737" y="388.93" width="1" height="28.77" fill="#ef5350"/><rect x="737" y="393.62" width="2" height="18.00" fill="#ef5350"/>
<rect x="740" y="390.81" width="1" height="25.73" fill="#20a496"/><rect x="739" y="398.30" width="3" height="13.31" fill="#20a496"/>
<rect x="743" y="376.05" width="1" height="26.90" fill="#20a496"/><rect x="742" y="383.78" width="3" height="15.42" fill="#20a496"/>
<rect x="746" y="381.44" width="1" height="13.31" fill="#ef5350"/><rect x="745" y="383.78" width="3" height="5.12" fill="#ef5350"/>
<rect x="748" y="386.59" width="1" height="13.31" fill="#ef5350"/><rect x="748" y="388.00" width="2" height="5.35" fill="#ef5350"/>
<rect x="751" y="391.04" width="1" height="21.74" fill="#ef5350"/><rect x="750" y="392.45" width="3" height="13.78" fill="#ef5350"/>
<rect x="754" y="391.98" width="1" height="58.75" fill="#ef5350"/><rect x="753" y="405.33" width="3" height="36.97" fill="#ef5350"/>
<rect x="757" y="429.45" width="1" height="35.80" fill="#ef5350"/><rect x="756" y="441.39" width="3" height="20.57" fill="#ef5350"/>
<rect x="759" y="451.93" width="1" height="22.91" fill="#ef5350"/><rect x="759" y="461.07" width="2" height="4.41" fill="#ef5350"/>
<rect x="762" y="443.27" width="1" height="25.02" fill="#20a496"/><rect x="761" y="449.36" width="3" height="16.12" fill="#20a496"/>
<rect x="765" y="446.31" width="1" height="9.80" fill="#20a496"/><rect x="764" y="449.36" width="3" height="0.90" fill="#20a496"/>
<rect x="768" y="439.29" width="1" height="14.02" fill="#20a496"/><rect x="767" y="443.50" width="3" height="6.75" fill="#20a496"/>
<rect x="770" y="424.30" width="1" height="28.77" fill="#ef5350"/><rect x="770" y="443.50" width="2" height="5.12" fill="#ef5350"/>
<rect x="773" y="437.18" width="1" height="16.36" fill="#20a496"/><rect x="772" y="443.27" width="3" height="5.35" fill="#20a496"/>
<rect x="776" y="435.77" width="1" height="29.94" fill="#ef5350"/><rect x="775" y="443.27" width="3" height="17.53" fill="#ef5350"/>
<rect x="779" y="447.72" width="1" height="22.45" fill="#20a496"/><rect x="778" y="456.15" width="3" height="4.65" fill="#20a496"/>
<rect x="781" y="437.65" width="1" height="20.57" fill="#20a496"/><rect x="781" y="443.50" width="2" height="13.55" fill="#20a496"/>
<rect x="784" y="431.56" width="1" height="14.95" fill="#20a496"/><rect x="783" y="435.07" width="3" height="9.33" fill="#20a496"/>
<rect x="787" y="432.96" width="1" height="12.38" fill="#ef5350"/><rect x="786" y="435.07" width="3" height="2.77" fill="#ef5350"/>
<rect x="790" y="393.15" width="1" height="50.55" fill="#20a496"/><rect x="789" y="399.24" width="3" height="38.61" fill="#20a496"/>
<rect x="792" y="385.42" width="1" height="36.26" fill="#ef5350"/><rect x="792" y="399.24" width="2" height="6.05" fill="#ef5350"/>
<rect x="795" y="395.02" width="1" height="14.25" fill="#20a496"/><rect x="794" y="403.45" width="3" height="1.84" fill="#20a496"/>
<rect x="798" y="394.32" width="1" height="18.47" fill="#ef5350"/><rect x="797" y="403.45" width="3" height="2.31" fill="#ef5350"/>
<rect x="800" y="388.23" width="1" height="19.87" fill="#20a496"/><rect x="800" y="396.19" width="2" height="9.57" fill="#20a496"/>
<rect x="803" y="391.28" width="1" height="8.63" fill="#20a496"/><rect x="802" y="394.79" width="3" height="2.31" fill="#20a496"/>
<rect x="806" y="369.03" width="1" height="29.71" fill="#20a496"/><rect x="805" y="371.84" width="3" height="23.85" fill="#20a496"/>
<rect x="809" y="366.45" width="1" height="27.60" fill="#ef5350"/><rect x="808" y="371.84" width="3" height="19.64" fill="#ef5350"/>
<rect x="811" y="389.17" width="1" height="16.12" fill="#ef5350"/><rect x="811" y="390.57" width="2" height="11.67" fill="#ef5350"/>
<rect x="814" y="399.47" width="1" height="42.59" fill="#ef5350"/><rect x="813" y="401.35" width="3" height="23.38" fill="#ef5350"/>
<rect x="817" y="414.70" width="1" height="14.02" fill="#20a496"/><rect x="816" y="421.02" width="3" height="3.71" fill="#20a496"/>
<rect x="820" y="414.23" width="1" height="43.76" fill="#ef5350"/><rect x="819" y="421.02" width="3" height="23.15" fill="#ef5350"/>
<rect x="822" y="427.58" width="1" height="19.17" fill="#20a496"/><rect x="822" y="433.67" width="2" height="10.50" fill="#20a496"/>
<rect x="825" y="422.89" width="1" height="15.65" fill="#20a496"/><rect x="824" y="427.81" width="3" height="6.75" fill="#20a496"/>
<rect x="828" y="408.84" width="1" height="28.30" fill="#20a496"/><rect x="827" y="413.76" width="3" height="14.95" fill="#20a496"/>
<rect x="831" y="387.06" width="1" height="29.00" fill="#20a496"/><rect x="830" y="397.13" width="3" height="17.53" fill="#20a496"/>
<rect x="833" y="377.46" width="1" height="29.71" fill="#20a496"/><rect x="833" y="392.21" width="2" height="5.82" fill="#20a496"/>
<rect x="836" y="389.87" width="1" height="39.78" fill="#ef5350"/><rect x="835" y="392.21" width="3" height="33.92" fill="#ef5350"/>
<rect x="839" y="409.07" width="1" height="29.00" fill="#ef5350"/><rect x="838" y="425.23" width="3" height="2.54" fill="#ef5350"/>
<rect x="842" y="424.06" width="1" height="13.31" fill="#ef5350"/><rect x="841" y="426.87" width="3" height="4.88" fill="#ef5350"/>
<rect x="844" y="430.15" width="1" height="21.04" fill="#ef5350"/><rect x="844" y="430.86" width="2" height="9.57" fill="#ef5350"/>
<rect x="847" y="431.56" width="1" height="32.28" fill="#ef5350"/><rect x="846" y="439.52" width="3" height="14.72" fill="#ef5350"/>
<rect x="850" y="434.13" width="1" height="24.32" fill="#20a496"/><rect x="849" y="447.72" width="3" height="6.52" fill="#20a496"/>
<rect x="853" y="372.07" width="1" height="77.72" fill="#20a496"/><rect x="852" y="377.46" width="3" height="71.16" fill="#20a496"/>
<rect x="855" y="332.02" width="1" height="51.49" fill="#20a496"/><rect x="855" y="336.71" width="2" height="41.65" fill="#20a496"/>
<rect x="858" y="316.80" width="1" height="23.15" fill="#20a496"/><rect x="857" y="321.48" width="3" height="16.12" fill="#20a496"/>
<rect x="861" y="275.58" width="1" height="48.68" fill="#20a496"/><rect x="860" y="282.61" width="3" height="39.78" fill="#20a496"/>
<rect x="864" y="254.03" width="1" height="42.82" fill="#20a496"/><rect x="863" y="269.49" width="3" height="14.02" fill="#20a496"/>
<rect x="866" y="221.71" width="1" height="66.94" fill="#20a496"/><rect x="866" y="225.23" width="2" height="45.16" fill="#20a496"/>
<rect x="869" y="208.83" width="1" height="55.70" fill="#ef5350"/><rect x="868" y="225.23" width="3" height="31.11" fill="#ef5350"/>
<rect x="872" y="234.60" width="1" height="51.49" fill="#ef5350"/><rect x="871" y="255.44" width="3" height="14.02" fill="#ef5350"/>
<rect x="875" y="255.91" width="1" height="50.78" fill="#ef5350"/><rect x="874" y="268.55" width="3" height="31.11" fill="#ef5350"/>
<rect x="877" y="281.67" width="1" height="28.30" fill="#20a496"/><rect x="877" y="291.27" width="2" height="8.39" fill="#20a496"/>
<rect x="880" y="261.06" width="1" height="35.33" fill="#20a496"/><rect x="879" y="281.44" width="3" height="10.74" fill="#20a496"/>
<rect x="883" y="274.41" width="1" height="30.88" fill="#ef5350"/><rect x="882" y="281.44" width="3" height="13.78" fill="#ef5350"/>
<rect x="886" y="259.89" width="1" height="41.65" fill="#20a496"/><rect x="885" y="263.64" width="3" height="31.58" fill="#20a496"/>
<rect x="888" y="260.59" width="1" height="37.20" fill="#ef5350"/><rect x="888" y="263.64" width="2" height="24.32" fill="#ef5350"/>
<rect x="891" y="275.11" width="1" height="31.35" fill="#ef5350"/><rect x="890" y="287.06" width="3" height="10.03" fill="#ef5350"/>
<rect x="894" y="221.71" width="1" height="84.04" fill="#20a496"/><rect x="893" y="228.74" width="3" height="68.35" fill="#20a496"/>
<rect x="897" y="211.64" width="1" height="41.18" fill="#ef5350"/><rect x="896" y="228.74" width="3" height="7.93" fill="#ef5350"/>
<rect x="899" y="195.95" width="1" height="44.23" fill="#20a496"/><rect x="899" y="220.31" width="2" height="16.36" fill="#20a496"/>
<rect x="902" y="206.96" width="1" height="40.48" fill="#ef5350"/><rect x="901" y="220.31" width="3" height="8.39" fill="#ef5350"/>
<rect x="905" y="184.24" width="1" height="58.75" fill="#20a496"/><rect x="904" y="215.39" width="3" height="13.31" fill="#20a496"/>
<rect x="908" y="204.15" width="1" height="50.08" fill="#ef5350"/><rect x="907" y="215.39" width="3" height="21.98" fill="#ef5350"/>
<rect x="910" y="152.16" width="1" height="90.83" fill="#20a496"/><rect x="910" y="159.42" width="2" height="77.95" fill="#20a496"/>
<rect x="913" y="157.31" width="1" height="32.05" fill="#ef5350"/><rect x="912" y="159.42" width="3" height="18.23" fill="#ef5350"/>
<rect x="916" y="160.59" width="1" height="27.60" fill="#20a496"/><rect x="915" y="173.47" width="3" height="4.18" fill="#20a496"/>
<rect x="919" y="139.51" width="1" height="40.71" fill="#20a496"/><rect x="918" y="147.71" width="3" height="26.66" fill="#20a496"/>
<rect x="921" y="137.40" width="1" height="21.51" fill="#20a496"/><rect x="921" y="146.54" width="2" height="2.07" fill="#20a496"/>
<rect x="924" y="134.36" width="1" height="49.15" fill="#ef5350"/><rect x="923" y="146.54" width="3" height="16.12" fill="#ef5350"/>
<rect x="927" y="155.44" width="1" height="40.71" fill="#ef5350"/><rect x="926" y="161.76" width="3" height="7.69" fill="#ef5350"/>
<rect x="930" y="104.38" width="1" height="65.30" fill="#20a496"/><rect x="929" y="116.32" width="3" height="53.13" fill="#20a496"/>
<rect x="932" y="88.45" width="1" height="66.24" fill="#ef5350"/><rect x="932" y="116.32" width="2" height="12.84" fill="#ef5350"/>
<rect x="935" y="57.77" width="1" height="73.50" fill="#20a496"/><rect x="934" y="78.62" width="3" height="50.55" fill="#20a496"/>
<rect x="938" y="72.53" width="1" height="14.02" fill="#ef5350"/><rect x="937" y="78.62" width="3" height="1.37" fill="#ef5350"/>
<rect x="940" y="74.64" width="1" height="22.45" fill="#20a496"/><rect x="940" y="77.21" width="2" height="2.77" fill="#20a496"/>
<rect x="943" y="76.74" width="1" height="117.30" fill="#ef5350"/><rect x="942" y="77.21" width="3" height="69.29" fill="#ef5350"/>
<rect x="946" y="129.67" width="1" height="62.96" fill="#ef5350"/><rect x="945" y="145.60" width="3" height="20.57" fill="#ef5350"/>
<rect x="949" y="113.75" width="1" height="67.65" fill="#20a496"/><rect x="948" y="117.73" width="3" height="48.44" fill="#20a496"/>
<rect x="951" y="81.19" width="1" height="45.63" fill="#20a496"/><rect x="951" y="106.02" width="2" height="12.61" fill="#20a496"/>
<rect x="954" y="85.64" width="1" height="27.83" fill="#20a496"/><rect x="953" y="100.16" width="3" height="6.76" fill="#20a496"/>
<rect x="957" y="90.80" width="1" height="29.24" fill="#ef5350"/><rect x="956" y="100.16" width="3" height="9.33" fill="#ef5350"/>
<rect x="960" y="84.24" width="1" height="34.39" fill="#20a496"/><rect x="959" y="87.75" width="3" height="21.74" fill="#20a496"/>
<rect x="962" y="52.90" width="1" height="53.31" fill="#20a496"/><rect x="962" y="81.43" width="2" height="7.22" fill="#20a496"/>
<rect x="965" y="53.32" width="1" height="61.56" fill="#ef5350"/><rect x="964" y="81.43" width="3" height="22.68" fill="#ef5350"/>
<rect x="968" y="99.93" width="1" height="68.82" fill="#ef5350"/><rect x="967" y="103.21" width="3" height="63.43" fill="#ef5350"/>
<rect x="971" y="143.73" width="1" height="93.17" fill="#ef5350"/><rect x="970" y="165.74" width="3" height="49.85" fill="#ef5350"/>
<rect x="973" y="195.95" width="1" height="93.64" fill="#20a496"/><rect x="973" y="201.81" width="2" height="13.78" fill="#20a496"/>
<rect x="976" y="182.37" width="1" height="62.26" fill="#ef5350"/><rect x="975" y="201.81" width="3" height="32.28" fill="#ef5350"/>
<rect x="979" y="217.97" width="1" height="43.52" fill="#ef5350"/><rect x="978" y="233.19" width="3" height="14.25" fill="#ef5350"/>
<rect x="982" y="203.21" width="1" height="59.45" fill="#20a496"/><rect x="981" y="213.52" width="3" height="33.92" fill="#20a496"/>
<rect x="984" y="186.12" width="1" height="44.46" fill="#20a496"/><rect x="984" y="196.89" width="2" height="17.53" fill="#20a496"/>
<rect x="987" y="184.71" width="1" height="25.49" fill="#20a496"/><rect x="986" y="195.95" width="3" height="1.84" fill="#20a496"/>
<rect x="990" y="191.97" width="1" height="50.55" fill="#ef5350"/><rect x="989" y="195.95" width="3" height="38.84" fill="#ef5350"/>
<rect x="993" y="208.13" width="1" height="33.22" fill="#ef5350"/><rect x="992" y="233.89" width="3" height="1.37" fill="#ef5350"/>
<rect x="995" y="214.22" width="1" height="24.55" fill="#20a496"/><rect x="995" y="217.73" width="2" height="17.53" fill="#20a496"/>
<rect x="998" y="217.03" width="1" height="20.81" fill="#ef5350"/><rect x="997" y="217.73" width="3" height="12.14" fill="#ef5350"/>
<rect x="1001" y="212.11" width="1" height="29.71" fill="#20a496"/><rect x="1000" y="227.80" width="3" height="2.07" fill="#20a496"/>
<rect x="1004" y="206.73" width="1" height="33.22" fill="#ef5350"/><rect x="1003" y="227.80" width="3" height="6.52" fill="#ef5350"/>
<rect x="1006" y="227.34" width="1" height="12.61" fill="#20a496"/><rect x="1006" y="227.80" width="2" height="6.52" fill="#20a496"/>
<rect x="1009" y="192.91" width="1" height="37.90" fill="#20a496"/><rect x="1008" y="205.79" width="3" height="22.91" fill="#20a496"/>
<rect x="1012" y="164.80" width="1" height="49.61" fill="#20a496"/><rect x="1011" y="169.72" width="3" height="36.97" fill="#20a496"/>
<rect x="1015" y="154.26" width="1" height="25.02" fill="#20a496"/><rect x="1014" y="158.25" width="3" height="12.38" fill="#20a496"/>
<rect x="1017" y="154.26" width="1" height="19.64" fill="#ef5350"/><rect x="1017" y="158.25" width="2" height="6.29" fill="#ef5350"/>
<rect x="1020" y="138.11" width="1" height="32.28" fill="#20a496"/><rect x="1019" y="151.22" width="3" height="13.31" fill="#20a496"/>
<rect x="1023" y="148.41" width="1" height="81.23" fill="#ef5350"/><rect x="1022" y="151.22" width="3" height="72.80" fill="#ef5350"/>
<rect x="1026" y="215.16" width="1" height="49.38" fill="#ef5350"/><rect x="1025" y="223.12" width="3" height="13.55" fill="#ef5350"/>
<rect x="1028" y="228.74" width="1" height="47.51" fill="#ef5350"/><rect x="1028" y="235.77" width="2" height="26.19" fill="#ef5350"/>
<rect x="1031" y="236.94" width="1" height="30.88" fill="#20a496"/><rect x="1030" y="249.58" width="3" height="12.38" fill="#20a496"/>
<rect x="1034" y="237.41" width="1" height="25.26" fill="#20a496"/><rect x="1033" y="246.07" width="3" height="4.41" fill="#20a496"/>
<rect x="1037" y="242.09" width="1" height="18.70" fill="#ef5350"/><rect x="1036" y="246.07" width="3" height="4.65" fill="#ef5350"/>
<rect x="1039" y="232.96" width="1" height="99.03" fill="#ef5350"/><rect x="1039" y="249.82" width="2" height="31.35" fill="#ef5350"/>
<rect x="1042" y="252.39" width="1" height="31.58" fill="#20a496"/><rect x="1041" y="259.89" width="3" height="21.28" fill="#20a496"/>
<rect x="1045" y="201.57" width="1" height="68.12" fill="#20a496"/><rect x="1044" y="206.96" width="3" height="53.83" fill="#20a496"/>
<rect x="1048" y="206.96" width="1" height="44.23" fill="#ef5350"/><rect x="1047" y="206.96" width="3" height="34.16" fill="#ef5350"/>
<rect x="1050" y="189.39" width="1" height="51.96" fill="#20a496"/><rect x="1050" y="201.57" width="2" height="39.54" fill="#20a496"/>
<rect x="1053" y="196.66" width="1" height="63.67" fill="#ef5350"/><rect x="1052" y="201.57" width="3" height="39.78" fill="#ef5350"/>
<rect x="1056" y="207.19" width="1" height="75.38" fill="#ef5350"/><rect x="1055" y="240.45" width="3" height="22.45" fill="#ef5350"/>
<rect x="1059" y="206.02" width="1" height="73.74" fill="#20a496"/><rect x="1058" y="245.84" width="3" height="17.06" fill="#20a496"/>
<rect x="1061" y="226.16" width="1" height="39.31" fill="#20a496"/><rect x="1061" y="235.77" width="2" height="10.97" fill="#20a496"/>
<rect x="1064" y="226.87" width="1" height="34.39" fill="#ef5350"/><rect x="1063" y="235.77" width="3" height="20.81" fill="#ef5350"/>
<rect x="1067" y="231.08" width="1" height="38.84" fill="#20a496"/><rect x="1066" y="233.19" width="3" height="23.38" fill="#20a496"/>
<rect x="1070" y="211.88" width="1" height="36.73" fill="#ef5350"/><rect x="1069" y="233.19" width="3" height="7.46" fill="#ef5350"/>
<rect x="1072" y="230.61" width="1" height="19.87" fill="#20a496"/><rect x="1072" y="237.87" width="2" height="2.77" fill="#20a496"/>
<rect x="1075" y="227.57" width="1" height="31.81" fill="#ef5350"/><rect x="1074" y="237.87" width="3" height="21.04" fill="#ef5350"/>
<rect x="1078" y="253.10" width="1" height="55.47" fill="#ef5350"/><rect x="1077" y="258.02" width="3" height="12.61" fill="#ef5350"/>
<rect x="1080" y="259.89" width="1" height="44.46" fill="#ef5350"/><rect x="1080" y="269.73" width="2" height="25.49" fill="#ef5350"/>
<rect x="1083" y="269.49" width="1" height="31.11" fill="#20a496"/><rect x="1082" y="285.89" width="3" height="9.33" fill="#20a496"/>
<rect x="1086" y="246.07" width="1" height="45.63" fill="#20a496"/><rect x="1085" y="254.50" width="3" height="32.28" fill="#20a496"/>
<rect x="1089" y="210.00" width="1" height="53.13" fill="#20a496"/><rect x="1088" y="242.09" width="3" height="13.31" fill="#20a496"/>
<rect x="1091" y="234.83" width="1" height="54.77" fill="#ef5350"/><rect x="1091" y="242.09" width="2" height="43.52" fill="#ef5350"/>
<rect x="1094" y="274.18" width="1" height="97.62" fill="#ef5350"/><rect x="1093" y="284.71" width="3" height="59.22" fill="#ef5350"/>
<rect x="1097" y="330.62" width="1" height="187.56" fill="#20a496"/><rect x="1096" y="340.45" width="3" height="3.48" fill="#20a496"/>
<rect x="1100" y="338.35" width="1" height="61.09" fill="#ef5350"/><rect x="1099" y="340.45" width="3" height="35.80" fill="#ef5350"/>
<rect x="1102" y="353.10" width="1" height="30.64" fill="#20a496"/><rect x="1102" y="362.00" width="2" height="14.25" fill="#20a496"/>
<rect x="1105" y="345.84" width="1" height="48.21" fill="#ef5350"/><rect x="1104" y="362.00" width="3" height="24.55" fill="#ef5350"/>
<rect x="1108" y="359.66" width="1" height="55.94" fill="#ef5350"/><rect x="1107" y="385.65" width="3" height="16.12" fill="#ef5350"/>
<rect x="1111" y="390.34" width="1" height="20.57" fill="#20a496"/><rect x="1110" y="398.54" width="3" height="3.24" fill="#20a496"/>
<rect x="1113" y="383.08" width="1" height="42.59" fill="#ef5350"/><rect x="1113" y="398.54" width="2" height="2.07" fill="#ef5350"/>
<rect x="1116" y="384.25" width="1" height="32.05" fill="#20a496"/><rect x="1115" y="391.74" width="3" height="8.86" fill="#20a496"/>
<rect x="1119" y="376.75" width="1" height="40.01" fill="#ef5350"/><rect x="1118" y="391.74" width="3" height="14.48" fill="#ef5350"/>
<rect x="1122" y="360.36" width="1" height="59.22" fill="#20a496"/><rect x="1121" y="373.71" width="3" height="32.52" fill="#20a496"/>
<rect x="1124" y="361.53" width="1" height="42.59" fill="#ef5350"/><rect x="1124" y="373.71" width="2" height="15.65" fill="#ef5350"/>
<rect x="1127" y="361.30" width="1" height="31.58" fill="#20a496"/><rect x="1126" y="376.75" width="3" height="12.61" fill="#20a496"/>
<rect x="1130" y="373.48" width="1" height="18.70" fill="#ef5350"/><rect x="1129" y="376.75" width="3" height="8.39" fill="#ef5350"/>
<rect x="1133" y="375.82" width="1" height="21.51" fill="#ef5350"/><rect x="1132" y="384.25" width="3" height="8.39" fill="#ef5350"/>
<rect x="1135" y="347.48" width="1" height="47.51" fill="#20a496"/><rect x="1135" y="372.31" width="2" height="20.34" fill="#20a496"/>
<rect x="1138" y="369.26" width="1" height="36.50" fill="#ef5350"/><rect x="1137" y="372.31" width="3" height="18.00" fill="#ef5350"/>
<rect x="1141" y="374.18" width="1" height="19.64" fill="#20a496"/><rect x="1140" y="379.10" width="3" height="11.20" fill="#20a496"/>
<rect x="1144" y="366.22" width="1" height="15.42" fill="#20a496"/><rect x="1143" y="373.71" width="3" height="6.29" fill="#20a496"/>
<rect x="1146" y="348.65" width="1" height="54.53" fill="#ef5350"/><rect x="1146" y="373.71" width="2" height="18.47" fill="#ef5350"/>
<rect x="1149" y="359.42" width="1" height="35.09" fill="#20a496"/><rect x="1148" y="367.86" width="3" height="24.32" fill="#20a496"/>
<rect x="1152" y="345.84" width="1" height="27.13" fill="#20a496"/><rect x="1151" y="354.74" width="3" height="14.02" fill="#20a496"/>
<rect x="1155" y="350.06" width="1" height="87.09" fill="#ef5350"/><rect x="1154" y="354.74" width="3" height="72.57" fill="#ef5350"/>
<rect x="1157" y="421.49" width="1" height="52.66" fill="#ef5350"/><rect x="1157" y="426.41" width="2" height="5.12" fill="#ef5350"/>
<rect x="1160" y="427.81" width="1" height="60.15" fill="#ef5350"/><rect x="1159" y="430.62" width="3" height="38.14" fill="#ef5350"/>
<rect x="1163" y="457.32" width="1" height="36.26" fill="#ef5350"/><rect x="1162" y="467.86" width="3" height="7.52" fill="#ef5350"/>
<rect x="1166" y="472.97" width="1" height="56.62" fill="#ef5350"/><rect x="1165" y="474.48" width="3" height="22.59" fill="#ef5350"/>
</g>
<line x1="962.4" y1="53.0" x2="1223.2" y2="421" stroke="#163d82" stroke-width="2.9" stroke-linecap="round"/>
<path d="M1031,83.5 H1119.5 A7,7 0 0 1 1126.5,90.5 V109.5 A7,7 0 0 1 1119.5,116.5 H1031 A7,7 0 0 1 1024.4,111.8 L1023.4,107.9 L1013.2,114 L1025,87.2 A7,7 0 0 1 1031,83.5 Z" fill="#fff" stroke="#9c1f24" stroke-width="1.4" stroke-linejoin="round"/>
<text x="1034.3" y="104" fill="#9c1f24" stroke="#9c1f24" stroke-width="0.2" textLength="81.5" lengthAdjust="spacingAndGlyphs">Downtrend line</text>
<g transform="translate(1166.6,543.5)"><circle r="11.7" fill="#fff"/><circle r="9.6" fill="none" stroke="#9c27b0" stroke-width="1.7"/><circle cx="6.8" cy="-7" r="4.3" fill="#fff"/><circle cx="6.8" cy="-7" r="2.5" fill="#f23645"/><path d="M2.2,-5.4 L-4.3,0.4 L0.2,0.4 L-3.5,5.4 L4.1,-0.6 L-0.2,-0.6 Z" fill="#9c27b0" stroke="#9c27b0" stroke-width="0.35" stroke-linejoin="round"/></g>
</g>
<g shape-rendering="crispEdges" fill="#eeeff1">
<rect x="9" y="26" width="1336" height="2"/>
<rect x="9" y="760" width="1336" height="2"/>
<rect x="9" y="26" width="2" height="736"/>
<rect x="1343" y="26" width="2" height="736"/>
</g>
<g shape-rendering="crispEdges" fill="#e0e3eb">
<rect x="1278" y="27" width="1" height="734"/>
<rect x="10" y="556" width="1334" height="1"/>
<rect x="10" y="733" width="1334" height="1"/>
</g>
<text x="1287.3" y="503.1" textLength="46" lengthAdjust="spacingAndGlyphs">2,200.00</text>
<text x="1287.3" y="456.3" textLength="46" lengthAdjust="spacingAndGlyphs">2,400.00</text>
<text x="1287.3" y="409.6" textLength="46" lengthAdjust="spacingAndGlyphs">2,600.00</text>
<text x="1287.3" y="362.8" textLength="46" lengthAdjust="spacingAndGlyphs">2,800.00</text>
<text x="1287.3" y="316.1" textLength="46" lengthAdjust="spacingAndGlyphs">3,000.00</text>
<text x="1287.3" y="269.4" textLength="46" lengthAdjust="spacingAndGlyphs">3,200.00</text>
<text x="1287.3" y="222.6" textLength="46" lengthAdjust="spacingAndGlyphs">3,400.00</text>
<text x="1287.3" y="175.9" textLength="46" lengthAdjust="spacingAndGlyphs">3,600.00</text>
<text x="1287.3" y="129.1" textLength="46" lengthAdjust="spacingAndGlyphs">3,800.00</text>
<text x="1287.3" y="82.4" textLength="46" lengthAdjust="spacingAndGlyphs">4,000.00</text>
<rect x="1279" y="49.1" width="60" height="16.6" rx="2" fill="#0000ff"/>
<text x="1287.3" y="60.4" fill="#fff" stroke="#fff" stroke-width="0.25" textLength="46" lengthAdjust="spacingAndGlyphs">4,090.50</text>
<rect x="1279" y="28" width="64" height="32.7" fill="#fff"/>
<rect x="1282.4" y="31.3" width="57.3" height="25.2" rx="4" fill="#fff" stroke="#e9eaec" stroke-width="1"/>
<text x="1291.2" y="49" textLength="27.5" lengthAdjust="spacingAndGlyphs">USDT</text>
<rect x="1227.9" y="320.1" width="110.8" height="16.6" rx="2" fill="#f23645"/>
<rect x="1278" y="320.1" width="1" height="16.6" fill="#fff" fill-opacity="0.3"/>
<text x="1287.3" y="332.6" fill="#fff" stroke="#fff" stroke-width="0.25" textLength="46" lengthAdjust="spacingAndGlyphs">2,932.20</text>
<text x="1232.4" y="332.6" fill="#fff" stroke="#fff" stroke-width="0.25" textLength="41.5" lengthAdjust="spacingAndGlyphs">SMA:MA</text>
<rect x="1247.2" y="395.1" width="91.5" height="16.6" rx="2" fill="#2962ff"/>
<rect x="1278" y="395.1" width="1" height="16.6" fill="#fff" fill-opacity="0.3"/>
<text x="1287.3" y="407.6" fill="#fff" stroke="#fff" stroke-width="0.25" textLength="46" lengthAdjust="spacingAndGlyphs">2,611.97</text>
<text x="1251.7" y="407.6" fill="#fff" stroke="#fff" stroke-width="0.25" textLength="22" lengthAdjust="spacingAndGlyphs">EMA</text>
<rect x="1279" y="488.2" width="59.7" height="44.6" rx="2" fill="#ef5350"/>
<rect x="1220" y="488.2" width="62" height="16.8" rx="2" fill="#ef5350"/>
<rect x="1278" y="488.2" width="1" height="16.8" fill="#fff" fill-opacity="0.3"/>
<text x="1224.8" y="500.7" fill="#fff" stroke="#fff" stroke-width="0.25" textLength="48" lengthAdjust="spacingAndGlyphs">ETHUSDT</text>
<text x="1287.3" y="500.1" fill="#fff" stroke="#fff" stroke-width="0.25" textLength="46" lengthAdjust="spacingAndGlyphs">2,215.11</text>
<text x="1287.3" y="513.9" fill="#fff" stroke="#fff" stroke-width="0.25" textLength="36.5" lengthAdjust="spacingAndGlyphs">+0.24%</text>
<text x="1287.3" y="528.3" fill="#fff" fill-opacity="0.72" textLength="46" lengthAdjust="spacingAndGlyphs">08:26:13</text>
<rect x="1279" y="533.4" width="59.7" height="16.6" rx="2" fill="#0000ff"/>
<text x="1287.3" y="545.2" fill="#fff" stroke="#fff" stroke-width="0.25" textLength="46" lengthAdjust="spacingAndGlyphs">2,111.00</text>
<text x="1287" y="729.3" textLength="29.3" lengthAdjust="spacingAndGlyphs">20.00</text>
<text x="1287" y="632.3" textLength="29.3" lengthAdjust="spacingAndGlyphs">60.00</text>
<text x="1287" y="583.8" textLength="29.3" lengthAdjust="spacingAndGlyphs">80.00</text>
<rect x="1199.4" y="671.2" width="122.4" height="16.6" rx="2" fill="#ffeb3b"/>
<rect x="1278" y="671.2" width="1" height="16.6" fill="#fff" fill-opacity="0.3"/>
<text x="1287" y="683.7" fill="#131722" stroke="#131722" stroke-width="0.25" textLength="29.3" lengthAdjust="spacingAndGlyphs">39.01</text>
<text x="1203.9" y="683.7" fill="#131722" stroke="#131722" stroke-width="0.25" textLength="69.5" lengthAdjust="spacingAndGlyphs">RSI-based MA</text>
<rect x="1252.9" y="696.2" width="68.9" height="16.6" rx="2" fill="#7e57c2"/>
<rect x="1278" y="696.2" width="1" height="16.6" fill="#fff" fill-opacity="0.3"/>
<text x="1287" y="708.7" fill="#fff" stroke="#fff" stroke-width="0.25" textLength="29.3" lengthAdjust="spacingAndGlyphs">28.35</text>
<text x="1257.4" y="708.7" fill="#fff" stroke="#fff" stroke-width="0.25" textLength="15.5" lengthAdjust="spacingAndGlyphs">RSI</text>
<text x="87.3" y="751" text-anchor="middle">Feb</text>
<text x="166.9" y="751" text-anchor="middle">Mar</text>
<text x="252.0" y="751" text-anchor="middle">Apr</text>
<text x="334.3" y="751" text-anchor="middle">May</text>
<text x="419.4" y="751" text-anchor="middle">Jun</text>
<text x="501.8" y="751" text-anchor="middle">Jul</text>
<text x="586.9" y="751" text-anchor="middle">Aug</text>
<text x="672.0" y="751" text-anchor="middle">Sep</text>
<text x="754.3" y="751" text-anchor="middle">Oct</text>
<text x="839.4" y="751" text-anchor="middle">Nov</text>
<text x="921.8" y="751" text-anchor="middle">Dec</text>
<text x="1006.9" y="751" text-anchor="middle" font-weight="bold">2025</text>
<text x="1092.0" y="751" text-anchor="middle">Feb</text>
<text x="1168.8" y="751" text-anchor="middle">Mar</text>
<text x="1253.9" y="751" text-anchor="middle">Apr</text>
<text x="10" y="19" font-size="13" textLength="361.5" lengthAdjust="spacingAndGlyphs">ranadagger published on TradingView.com, Feb 28, 2025 15:33 UTC</text>
<text x="18.4" y="46" textLength="50.7" lengthAdjust="spacingAndGlyphs">Ethereum</text>
<text x="75.4" y="46" textLength="5.1" lengthAdjust="spacingAndGlyphs">/</text>
<text x="85.2" y="46" textLength="45.7" lengthAdjust="spacingAndGlyphs">TetherUS</text>
<text x="136.5" y="46" text-anchor="middle">·</text><text x="162.9" y="46" text-anchor="middle">·</text>
<text x="143.6" y="46" textLength="13.2" lengthAdjust="spacingAndGlyphs">1D</text>
<text x="168.8" y="46" textLength="45" lengthAdjust="spacingAndGlyphs">BINANCE</text>
<text x="222" y="46" textLength="7.5" lengthAdjust="spacingAndGlyphs">O</text>
<text x="229.3" y="46" fill="#ef5350" textLength="46.5" lengthAdjust="spacingAndGlyphs">2,307.72</text>
<text x="284" y="46" textLength="7.5" lengthAdjust="spacingAndGlyphs">H</text>
<text x="291.3" y="46" fill="#ef5350" textLength="46.5" lengthAdjust="spacingAndGlyphs">2,314.18</text>
<text x="345.6" y="46" textLength="5.5" lengthAdjust="spacingAndGlyphs">L</text>
<text x="351.2" y="46" fill="#ef5350" textLength="46.5" lengthAdjust="spacingAndGlyphs">2,076.26</text>
<text x="405" y="46" textLength="7" lengthAdjust="spacingAndGlyphs">C</text>
<text x="412" y="46" fill="#ef5350" textLength="46.5" lengthAdjust="spacingAndGlyphs">2,215.11</text>
<text x="466" y="46" fill="#ef5350" textLength="85" lengthAdjust="spacingAndGlyphs">−92.61 (−4.01%)</text>
<text x="18" y="63" textLength="82" lengthAdjust="spacingAndGlyphs">EMA (20, close)</text>
<text x="107.5" y="63" fill="#2962ff" textLength="46" lengthAdjust="spacingAndGlyphs">2,611.97</text>
<text x="18" y="80" textLength="81.5" lengthAdjust="spacingAndGlyphs">SMA (50, close)</text>
<text x="107.2" y="80" fill="#f23645" textLength="46.3" lengthAdjust="spacingAndGlyphs">2,932.20</text>
<text x="18" y="576.3" textLength="75.5" lengthAdjust="spacingAndGlyphs">RSI (14, close)</text>
<text x="101.5" y="576.3" fill="#7e57c2" textLength="29.5" lengthAdjust="spacingAndGlyphs">28.35</text>
<text x="138.5" y="576.3" fill="#fdd835" textLength="28.5" lengthAdjust="spacingAndGlyphs" stroke="#fdd835" stroke-width="0.3">39.01</text>
<text x="174.6" y="576.2" font-size="11" textLength="8.4" lengthAdjust="spacingAndGlyphs" stroke="#131722" stroke-width="0.25">∅</text>
<text x="190.8" y="576.2" font-size="11" textLength="8.4" lengthAdjust="spacingAndGlyphs" stroke="#131722" stroke-width="0.25">∅</text>
<text x="205.8" y="576.2" font-size="11" textLength="8.4" lengthAdjust="spacingAndGlyphs" stroke="#131722" stroke-width="0.25">∅</text>
<text x="220.9" y="576.2" font-size="11" textLength="8.4" lengthAdjust="spacingAndGlyphs" stroke="#131722" stroke-width="0.25">∅</text>
<g fill="#111"><path d="M10,773 H17.85 V782.8 H13.95 V776.9 H10 Z"/><circle cx="20.95" cy="775.05" r="1.9"/><path d="M25.2,773 H29.7 L25.6,782.8 H21.25 Z"/></g>
<text x="33" y="782.8" font-size="12.5" fill="#111" textLength="70" lengthAdjust="spacingAndGlyphs">TradingView</text>
</svg>
</body></html>
